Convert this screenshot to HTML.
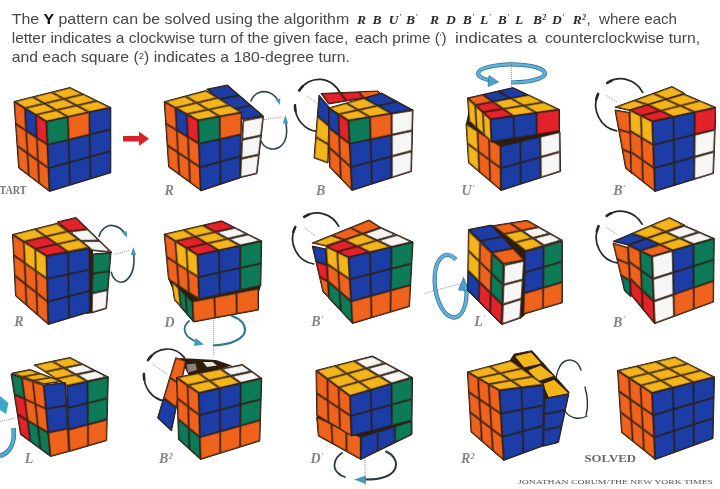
<!DOCTYPE html>
<html><head><meta charset="utf-8"><title>Y pattern</title>
<style>
html,body{margin:0;padding:0;background:#fff;}
body{width:720px;height:489px;overflow:hidden;}
svg{display:block;}
</style></head><body>
<svg width="720" height="489" viewBox="0 0 720 489">
<defs><filter id="soft" x="0" y="0" width="100%" height="100%"><feGaussianBlur stdDeviation="0.7"/></filter></defs>
<rect width="720" height="489" fill="#ffffff"/>
<g filter="url(#soft)">
<g fill="#474747">
<text x="11.7" y="23.8" style="font-family:'Liberation Sans', sans-serif;font-size:15px;" textLength="337.5" lengthAdjust="spacingAndGlyphs">The <tspan style="font-weight:bold" fill="#111">Y</tspan> pattern can be solved using the algorithm</text>
<text x="357" y="23.8" fill="#2a2a2a" style="font-family:'Liberation Serif', serif;font-style:italic;font-weight:bold;font-size:13.5px;">R</text>
<text x="372.5" y="23.8" fill="#2a2a2a" style="font-family:'Liberation Serif', serif;font-style:italic;font-weight:bold;font-size:13.5px;">B</text>
<text x="388.7" y="23.8" fill="#2a2a2a" style="font-family:'Liberation Serif', serif;font-style:italic;font-weight:bold;font-size:13.5px;">U<tspan dy="-4" dx="0.5" style="font-size:7.5px">'</tspan></text>
<text x="406" y="23.8" fill="#2a2a2a" style="font-family:'Liberation Serif', serif;font-style:italic;font-weight:bold;font-size:13.5px;">B<tspan dy="-4" dx="0.5" style="font-size:7.5px">'</tspan></text>
<text x="430" y="23.8" fill="#2a2a2a" style="font-family:'Liberation Serif', serif;font-style:italic;font-weight:bold;font-size:13.5px;">R</text>
<text x="446" y="23.8" fill="#2a2a2a" style="font-family:'Liberation Serif', serif;font-style:italic;font-weight:bold;font-size:13.5px;">D</text>
<text x="462.7" y="23.8" fill="#2a2a2a" style="font-family:'Liberation Serif', serif;font-style:italic;font-weight:bold;font-size:13.5px;">B<tspan dy="-4" dx="0.5" style="font-size:7.5px">'</tspan></text>
<text x="480" y="23.8" fill="#2a2a2a" style="font-family:'Liberation Serif', serif;font-style:italic;font-weight:bold;font-size:13.5px;">L<tspan dy="-4" dx="0.5" style="font-size:7.5px">'</tspan></text>
<text x="497.7" y="23.8" fill="#2a2a2a" style="font-family:'Liberation Serif', serif;font-style:italic;font-weight:bold;font-size:13.5px;">B<tspan dy="-4" dx="0.5" style="font-size:7.5px">'</tspan></text>
<text x="515" y="23.8" fill="#2a2a2a" style="font-family:'Liberation Serif', serif;font-style:italic;font-weight:bold;font-size:13.5px;">L</text>
<text x="533" y="23.8" fill="#2a2a2a" style="font-family:'Liberation Serif', serif;font-style:italic;font-weight:bold;font-size:13.5px;">B<tspan dy="-4" dx="0.5" style="font-size:7.5px">2</tspan></text>
<text x="552" y="23.8" fill="#2a2a2a" style="font-family:'Liberation Serif', serif;font-style:italic;font-weight:bold;font-size:13.5px;">D<tspan dy="-4" dx="0.5" style="font-size:7.5px">'</tspan></text>
<text x="572.7" y="23.8" fill="#2a2a2a" style="font-family:'Liberation Serif', serif;font-style:italic;font-weight:bold;font-size:13.5px;">R<tspan dy="-4" dx="0.5" style="font-size:7.5px">2</tspan></text>
<text x="586.5" y="23.8" style="font-family:'Liberation Sans', sans-serif;font-size:15px;">,</text><text x="599" y="23.8" style="font-family:'Liberation Sans', sans-serif;font-size:15px;" textLength="78" lengthAdjust="spacingAndGlyphs">where each</text>
<text x="11.7" y="43" style="font-family:'Liberation Sans', sans-serif;font-size:15px;" textLength="336.6" lengthAdjust="spacingAndGlyphs">letter indicates a clockwise turn of the given face,</text>
<text x="355" y="43" style="font-family:'Liberation Sans', sans-serif;font-size:15px;" textLength="91.7" lengthAdjust="spacingAndGlyphs">each prime (<tspan dy="-3" style="font-size:9px">'</tspan><tspan dy="3">)</tspan></text>
<text x="455" y="43" style="font-family:'Liberation Sans', sans-serif;font-size:15px;" textLength="81.7" lengthAdjust="spacingAndGlyphs">indicates a</text>
<text x="545" y="43" style="font-family:'Liberation Sans', sans-serif;font-size:15px;" textLength="155" lengthAdjust="spacingAndGlyphs">counterclockwise turn,</text>
<text x="11.7" y="62" style="font-family:'Liberation Sans', sans-serif;font-size:15px;" textLength="338.3" lengthAdjust="spacingAndGlyphs">and each square (<tspan dy="-3" style="font-size:9px">2</tspan><tspan dy="3">)</tspan> indicates a 180-degree turn.</text>
</g>
<polygon points="123.0,136.0 139.0,136.0 139.0,131.5 149.0,138.7 139.0,146.0 139.0,141.5 123.0,141.5" fill="#d8232a"/>
<polygon points="14.0,101.5 70.0,87.5 110.8,107.5 46.5,121.5" fill="#2e1c10" stroke="#2e1c10" stroke-width="1.0" stroke-linejoin="round"/>
<polygon points="14.9,101.6 32.6,97.2 43.5,103.4 24.9,107.8" fill="#916815"/>
<polygon points="18.5,102.2 32.4,98.7 39.7,102.8 25.1,106.3" fill="#f4b41a" stroke="#f4b41a" stroke-width="1" stroke-linejoin="round"/>
<polygon points="33.6,97.0 51.3,92.5 63.0,98.7 44.5,103.1" fill="#916815"/>
<polygon points="37.3,97.5 51.1,94.0 59.1,98.2 44.7,101.6" fill="#f4b41a" stroke="#f4b41a" stroke-width="1" stroke-linejoin="round"/>
<polygon points="52.3,92.3 70.0,87.9 82.6,94.1 64.1,98.5" fill="#916815"/>
<polygon points="56.2,92.8 69.8,89.4 78.5,93.6 64.2,97.0" fill="#f4b41a" stroke="#f4b41a" stroke-width="1" stroke-linejoin="round"/>
<polygon points="25.7,108.3 44.4,103.9 55.2,110.0 35.7,114.5" fill="#916815"/>
<polygon points="29.3,108.9 44.2,105.4 51.4,109.5 36.0,113.0" fill="#f4b41a" stroke="#f4b41a" stroke-width="1" stroke-linejoin="round"/>
<polygon points="45.4,103.6 64.0,99.2 75.7,105.4 56.2,109.8" fill="#916815"/>
<polygon points="49.2,104.2 63.8,100.7 71.7,104.8 56.5,108.3" fill="#f4b41a" stroke="#f4b41a" stroke-width="1" stroke-linejoin="round"/>
<polygon points="65.0,99.0 83.6,94.5 96.2,100.7 76.7,105.1" fill="#916815"/>
<polygon points="69.0,99.5 83.4,96.0 92.0,100.2 76.9,103.7" fill="#f4b41a" stroke="#f4b41a" stroke-width="1" stroke-linejoin="round"/>
<polygon points="36.6,115.0 56.1,110.5 67.0,116.7 46.6,121.1" fill="#916815"/>
<polygon points="40.2,115.6 55.9,112.0 63.1,116.1 46.8,119.6" fill="#f4b41a" stroke="#f4b41a" stroke-width="1" stroke-linejoin="round"/>
<polygon points="57.1,110.3 76.6,105.9 88.4,112.0 68.0,116.5" fill="#916815"/>
<polygon points="61.0,110.9 76.4,107.3 84.3,111.5 68.2,115.0" fill="#f4b41a" stroke="#f4b41a" stroke-width="1" stroke-linejoin="round"/>
<polygon points="77.7,105.6 97.2,101.2 109.7,107.4 89.4,111.8" fill="#916815"/>
<polygon points="81.7,106.2 97.0,102.7 105.5,106.9 89.6,110.3" fill="#f4b41a" stroke="#f4b41a" stroke-width="1" stroke-linejoin="round"/>
<polygon points="14.0,101.5 46.5,121.5 49.5,191.5 18.6,168.0" fill="#2e1c10" stroke="#2e1c10" stroke-width="1.0" stroke-linejoin="round"/>
<polygon points="14.4,102.2 24.5,108.4 25.8,130.0 15.9,123.5" fill="#8f4017"/>
<polygon points="16.0,104.8 23.1,109.2 24.2,127.3 17.2,122.7" fill="#f0641e" stroke="#f0641e" stroke-width="1" stroke-linejoin="round"/>
<polygon points="25.2,108.8 35.3,115.0 36.5,137.1 26.5,130.5" fill="#242d5b"/>
<polygon points="26.8,111.4 34.0,115.8 34.9,134.4 27.9,129.7" fill="#1a3ea6" stroke="#1a3ea6" stroke-width="1" stroke-linejoin="round"/>
<polygon points="36.1,115.5 46.2,121.7 47.1,144.2 37.2,137.6" fill="#881f1d"/>
<polygon points="37.6,118.1 44.8,122.5 45.6,141.5 38.5,136.8" fill="#e3222b" stroke="#e3222b" stroke-width="1" stroke-linejoin="round"/>
<polygon points="15.9,124.4 25.8,130.9 27.2,152.6 17.4,145.6" fill="#8f4017"/>
<polygon points="17.5,127.1 24.5,131.7 25.6,149.7 18.8,144.9" fill="#f0641e" stroke="#f0641e" stroke-width="1" stroke-linejoin="round"/>
<polygon points="26.6,131.4 36.5,138.0 37.6,160.0 27.9,153.1" fill="#8f4017"/>
<polygon points="28.1,134.1 35.1,138.7 36.1,157.2 29.2,152.3" fill="#f0641e" stroke="#f0641e" stroke-width="1" stroke-linejoin="round"/>
<polygon points="37.2,138.5 47.2,145.0 48.1,167.5 38.4,160.5" fill="#8f4017"/>
<polygon points="38.8,141.2 45.8,145.8 46.6,164.7 39.7,159.8" fill="#f0641e" stroke="#f0641e" stroke-width="1" stroke-linejoin="round"/>
<polygon points="17.5,146.5 27.2,153.5 28.5,175.1 18.9,167.8" fill="#8f4017"/>
<polygon points="19.1,149.4 25.8,154.2 26.9,172.1 20.3,167.1" fill="#f0641e" stroke="#f0641e" stroke-width="1" stroke-linejoin="round"/>
<polygon points="27.9,154.0 37.7,160.9 38.8,182.9 29.2,175.7" fill="#8f4017"/>
<polygon points="29.5,156.8 36.3,161.7 37.3,180.0 30.6,174.9" fill="#f0641e" stroke="#f0641e" stroke-width="1" stroke-linejoin="round"/>
<polygon points="38.4,161.4 48.2,168.4 49.1,190.8 39.5,183.5" fill="#8f4017"/>
<polygon points="40.0,164.2 46.8,169.1 47.6,187.9 40.9,182.8" fill="#f0641e" stroke="#f0641e" stroke-width="1" stroke-linejoin="round"/>
<polygon points="46.5,121.5 110.8,107.5 110.8,172.8 49.5,191.5" fill="#2e1c10" stroke="#2e1c10" stroke-width="1.0" stroke-linejoin="round"/>
<polygon points="46.9,121.8 67.6,117.3 68.2,139.4 47.8,144.4" fill="#1e4b34"/>
<polygon points="48.3,122.9 66.2,119.0 66.8,138.3 49.2,142.6" fill="#0e7a58" stroke="#0e7a58" stroke-width="1" stroke-linejoin="round"/>
<polygon points="68.3,117.1 89.0,112.6 89.3,134.2 68.9,139.2" fill="#8f4017"/>
<polygon points="69.7,118.2 87.6,114.3 87.9,133.1 70.3,137.4" fill="#f0641e" stroke="#f0641e" stroke-width="1" stroke-linejoin="round"/>
<polygon points="89.7,112.4 110.5,107.9 110.5,129.0 90.0,134.0" fill="#242d5b"/>
<polygon points="91.1,113.6 109.0,109.7 109.0,127.9 91.4,132.2" fill="#1a3ea6" stroke="#1a3ea6" stroke-width="1" stroke-linejoin="round"/>
<polygon points="47.9,145.1 68.3,140.1 68.9,162.2 48.8,167.7" fill="#242d5b"/>
<polygon points="49.3,146.2 66.9,141.9 67.5,161.1 50.2,165.9" fill="#1a3ea6" stroke="#1a3ea6" stroke-width="1" stroke-linejoin="round"/>
<polygon points="69.0,139.9 89.4,134.9 89.7,156.5 69.6,162.0" fill="#242d5b"/>
<polygon points="70.4,141.0 88.0,136.7 88.3,155.4 71.0,160.2" fill="#1a3ea6" stroke="#1a3ea6" stroke-width="1" stroke-linejoin="round"/>
<polygon points="90.1,134.7 110.5,129.7 110.5,150.8 90.4,156.3" fill="#242d5b"/>
<polygon points="91.5,135.8 109.0,131.5 109.0,149.7 91.7,154.5" fill="#1a3ea6" stroke="#1a3ea6" stroke-width="1" stroke-linejoin="round"/>
<polygon points="48.9,168.4 68.9,162.9 69.6,185.0 49.8,191.0" fill="#242d5b"/>
<polygon points="50.3,169.5 67.6,164.7 68.1,184.0 51.2,189.2" fill="#1a3ea6" stroke="#1a3ea6" stroke-width="1" stroke-linejoin="round"/>
<polygon points="69.6,162.7 89.7,157.2 90.0,178.8 70.3,184.8" fill="#242d5b"/>
<polygon points="71.1,163.8 88.3,159.0 88.6,177.7 71.6,182.9" fill="#1a3ea6" stroke="#1a3ea6" stroke-width="1" stroke-linejoin="round"/>
<polygon points="90.4,157.0 110.5,151.5 110.5,172.5 90.7,178.6" fill="#242d5b"/>
<polygon points="91.8,158.1 109.0,153.3 109.0,171.5 92.1,176.7" fill="#1a3ea6" stroke="#1a3ea6" stroke-width="1" stroke-linejoin="round"/>
<text x="-0.5" y="194" fill="#777" text-anchor="start" style="font-family:'Liberation Serif', serif;font-size:12.5px;font-weight:bold;" textLength="27" lengthAdjust="spacingAndGlyphs">TART</text>
<path d="M251,101 C254,93 262,90 269,92.5 C274,94.5 277,98 278.5,102" fill="none" stroke="#2c4a52" stroke-width="1.6" stroke-linecap="round"/>
<path d="M285.5,121 C288,133 286,143 279,147.5 C272,151 264,148 261,141" fill="none" stroke="#2c4a52" stroke-width="1.6" stroke-linecap="round"/>
<polygon points="275.5,99.5 280.3,98.5 280.0,105.0" fill="#3f9bb8"/>
<polygon points="282.8,123.5 285.3,115.0 288.2,123.5" fill="#3f9bb8"/>
<line x1="264" y1="119.6" x2="282.4" y2="116.8" stroke="#777" stroke-width="0.8" stroke-dasharray="1,1"/>
<polygon points="206.7,89.2 227.5,85.0 263.5,116.0 243.0,119.5" fill="#2e1c10" stroke="#2e1c10" stroke-width="1.0" stroke-linejoin="round"/>
<polygon points="207.5,89.4 227.4,85.4 238.7,95.1 218.9,98.9" fill="#242d5b"/>
<polygon points="210.6,90.2 227.0,86.9 235.6,94.3 219.3,97.4" fill="#1a3ea6" stroke="#1a3ea6" stroke-width="1" stroke-linejoin="round"/>
<polygon points="219.6,99.5 239.4,95.7 250.7,105.5 231.0,109.0" fill="#242d5b"/>
<polygon points="222.8,100.3 239.0,97.2 247.6,104.6 231.4,107.5" fill="#1a3ea6" stroke="#1a3ea6" stroke-width="1" stroke-linejoin="round"/>
<polygon points="231.7,109.6 251.4,106.0 262.7,115.8 243.1,119.1" fill="#242d5b"/>
<polygon points="234.9,110.5 251.0,107.5 259.5,114.9 243.5,117.6" fill="#1a3ea6" stroke="#1a3ea6" stroke-width="1" stroke-linejoin="round"/>
<polygon points="243.0,120.5 263.5,116.5 257.0,173.7 240.0,177.7" fill="#2e1c10" stroke="#2e1c10" stroke-width="1.0" stroke-linejoin="round"/>
<polygon points="243.3,120.8 263.1,116.9 261.0,135.3 242.4,139.1" fill="#6a5d54"/>
<polygon points="244.7,122.0 261.5,118.7 259.7,134.1 243.9,137.4" fill="#f6f6f4" stroke="#f6f6f4" stroke-width="1" stroke-linejoin="round"/>
<polygon points="242.3,139.9 260.9,136.0 258.8,154.3 241.4,158.2" fill="#6a5d54"/>
<polygon points="243.7,141.0 259.3,137.8 257.6,153.2 242.9,156.4" fill="#f6f6f4" stroke="#f6f6f4" stroke-width="1" stroke-linejoin="round"/>
<polygon points="241.3,158.9 258.8,155.1 256.7,173.4 240.4,177.3" fill="#6a5d54"/>
<polygon points="242.7,160.1 257.2,156.9 255.4,172.3 241.9,175.5" fill="#f6f6f4" stroke="#f6f6f4" stroke-width="1" stroke-linejoin="round"/>
<polygon points="164.2,101.7 206.0,90.5 241.7,112.5 198.0,120.3" fill="#2e1c10" stroke="#2e1c10" stroke-width="1.0" stroke-linejoin="round"/>
<polygon points="165.1,101.8 185.0,96.5 195.8,102.7 175.5,107.5" fill="#916815"/>
<polygon points="168.9,102.3 184.8,98.0 192.0,102.2 175.7,106.0" fill="#f4b41a" stroke="#f4b41a" stroke-width="1" stroke-linejoin="round"/>
<polygon points="186.0,96.2 205.9,90.9 217.0,97.7 196.7,102.5" fill="#916815"/>
<polygon points="189.6,96.7 205.7,92.4 213.4,97.1 197.0,101.0" fill="#f4b41a" stroke="#f4b41a" stroke-width="1" stroke-linejoin="round"/>
<polygon points="176.4,108.0 196.6,103.2 207.3,109.5 186.8,113.7" fill="#916815"/>
<polygon points="180.3,108.6 196.4,104.7 203.4,108.8 187.0,112.3" fill="#f4b41a" stroke="#f4b41a" stroke-width="1" stroke-linejoin="round"/>
<polygon points="197.6,103.0 217.8,98.2 228.9,105.0 208.3,109.3" fill="#916815"/>
<polygon points="201.3,103.6 217.6,99.7 225.1,104.3 208.6,107.8" fill="#f4b41a" stroke="#f4b41a" stroke-width="1" stroke-linejoin="round"/>
<polygon points="187.7,114.3 208.2,110.0 218.9,116.2 198.1,119.9" fill="#916815"/>
<polygon points="191.7,114.9 208.0,111.5 214.9,115.5 198.3,118.5" fill="#f4b41a" stroke="#f4b41a" stroke-width="1" stroke-linejoin="round"/>
<polygon points="209.2,109.8 229.7,105.5 240.7,112.3 219.9,116.0" fill="#916815"/>
<polygon points="213.1,110.4 229.5,107.0 236.9,111.6 220.2,114.6" fill="#f4b41a" stroke="#f4b41a" stroke-width="1" stroke-linejoin="round"/>
<polygon points="164.2,101.7 198.0,120.3 200.8,190.5 168.6,167.0" fill="#2e1c10" stroke="#2e1c10" stroke-width="1.0" stroke-linejoin="round"/>
<polygon points="164.6,102.3 175.1,108.1 176.4,129.6 166.0,123.3" fill="#8f4017"/>
<polygon points="166.2,104.8 173.8,109.0 174.8,127.0 167.4,122.4" fill="#f0641e" stroke="#f0641e" stroke-width="1" stroke-linejoin="round"/>
<polygon points="175.9,108.5 186.4,114.3 187.5,136.3 177.1,130.0" fill="#242d5b"/>
<polygon points="177.4,111.0 185.0,115.2 185.9,133.7 178.4,129.2" fill="#1a3ea6" stroke="#1a3ea6" stroke-width="1" stroke-linejoin="round"/>
<polygon points="187.1,114.7 197.7,120.5 198.6,143.1 188.2,136.8" fill="#881f1d"/>
<polygon points="188.6,117.1 196.3,121.4 197.1,140.5 189.5,135.9" fill="#e3222b" stroke="#e3222b" stroke-width="1" stroke-linejoin="round"/>
<polygon points="166.1,124.1 176.4,130.4 177.7,151.8 167.5,145.0" fill="#8f4017"/>
<polygon points="167.6,126.7 175.1,131.2 176.1,149.1 168.8,144.3" fill="#f0641e" stroke="#f0641e" stroke-width="1" stroke-linejoin="round"/>
<polygon points="177.1,130.9 187.5,137.2 188.6,159.1 178.4,152.3" fill="#8f4017"/>
<polygon points="178.7,133.4 186.1,138.0 187.0,156.4 179.7,151.6" fill="#f0641e" stroke="#f0641e" stroke-width="1" stroke-linejoin="round"/>
<polygon points="188.2,137.6 198.6,143.9 199.5,166.4 189.3,159.6" fill="#8f4017"/>
<polygon points="189.8,140.2 197.2,144.7 198.0,163.7 190.7,158.8" fill="#f0641e" stroke="#f0641e" stroke-width="1" stroke-linejoin="round"/>
<polygon points="167.5,145.9 177.7,152.7 178.9,174.1 168.9,166.8" fill="#8f4017"/>
<polygon points="169.1,148.7 176.3,153.5 177.4,171.2 170.3,166.1" fill="#f0641e" stroke="#f0641e" stroke-width="1" stroke-linejoin="round"/>
<polygon points="178.4,153.2 188.6,160.0 189.7,182.0 179.7,174.6" fill="#8f4017"/>
<polygon points="180.0,155.9 187.3,160.8 188.1,179.1 181.0,173.9" fill="#f0641e" stroke="#f0641e" stroke-width="1" stroke-linejoin="round"/>
<polygon points="189.3,160.5 199.5,167.3 200.4,189.8 190.4,182.5" fill="#8f4017"/>
<polygon points="190.9,163.2 198.2,168.1 198.9,187.0 191.8,181.7" fill="#f0641e" stroke="#f0641e" stroke-width="1" stroke-linejoin="round"/>
<polygon points="198.0,120.3 241.7,112.5 240.0,178.0 200.5,191.0" fill="#2e1c10" stroke="#2e1c10" stroke-width="1.0" stroke-linejoin="round"/>
<polygon points="198.4,120.6 219.5,116.8 219.6,138.8 199.2,143.4" fill="#1e4b34"/>
<polygon points="199.8,121.8 218.1,118.5 218.2,137.7 200.5,141.7" fill="#0e7a58" stroke="#0e7a58" stroke-width="1" stroke-linejoin="round"/>
<polygon points="220.2,116.7 241.3,112.9 240.8,134.1 220.3,138.7" fill="#8f4017"/>
<polygon points="221.6,117.9 239.9,114.6 239.4,132.9 221.7,136.9" fill="#f0641e" stroke="#f0641e" stroke-width="1" stroke-linejoin="round"/>
<polygon points="199.2,144.1 219.6,139.5 219.8,161.5 200.0,167.0" fill="#242d5b"/>
<polygon points="200.6,145.3 218.2,141.3 218.4,160.5 201.3,165.2" fill="#1a3ea6" stroke="#1a3ea6" stroke-width="1" stroke-linejoin="round"/>
<polygon points="220.3,139.4 240.8,134.8 240.2,155.9 220.5,161.3" fill="#242d5b"/>
<polygon points="221.7,140.5 239.3,136.5 238.9,154.8 221.9,159.5" fill="#1a3ea6" stroke="#1a3ea6" stroke-width="1" stroke-linejoin="round"/>
<polygon points="200.0,167.7 219.8,162.3 219.9,184.2 200.8,190.5" fill="#242d5b"/>
<polygon points="201.5,168.8 218.4,164.1 218.5,183.2 202.2,188.6" fill="#1a3ea6" stroke="#1a3ea6" stroke-width="1" stroke-linejoin="round"/>
<polygon points="220.5,162.1 240.2,156.6 239.7,177.7 220.6,184.0" fill="#242d5b"/>
<polygon points="221.9,163.1 238.8,158.5 238.3,176.7 222.0,182.1" fill="#1a3ea6" stroke="#1a3ea6" stroke-width="1" stroke-linejoin="round"/>
<text x="164.5" y="194.8" fill="#858585" text-anchor="start" style="font-family:'Liberation Serif', serif;font-size:14px;font-style:italic;font-weight:bold;">R</text>
<path d="M299.3,90.5 A24,26 0 0 1 340.8,94.4" fill="none" stroke="#262626" stroke-width="1.7" stroke-linecap="round"/>
<path d="M295.0,105.4 A24,26 0 0 0 316.9,131.3" fill="none" stroke="#262626" stroke-width="1.7" stroke-linecap="round"/>
<path d="M299.3,90.5 A24,26 0 0 1 302.6,86.4" fill="none" stroke="#262626" stroke-width="2.6" stroke-linecap="round"/>
<path d="M295.0,105.4 A24,26 0 0 0 295.5,110.8" fill="none" stroke="#262626" stroke-width="2.6" stroke-linecap="round"/>
<line x1="306.5" y1="95.8" x2="317.2" y2="103.6" stroke="#777" stroke-width="0.8" stroke-dasharray="1,1"/>
<polygon points="321.0,93.5 378.0,91.0 382.0,95.0 328.5,104.0" fill="#2e1c10" stroke="#2e1c10" stroke-width="1.0" stroke-linejoin="round"/>
<polygon points="321.7,93.8 339.8,93.0 345.7,100.8 328.7,103.6" fill="#881f1d"/>
<polygon points="324.3,95.1 339.2,94.5 343.2,99.8 329.3,102.1" fill="#e3222b" stroke="#e3222b" stroke-width="1" stroke-linejoin="round"/>
<polygon points="340.7,93.0 358.8,92.2 363.5,97.8 346.5,100.6" fill="#881f1d"/>
<polygon points="343.4,94.3 358.2,93.6 360.9,96.8 347.1,99.1" fill="#e3222b" stroke="#e3222b" stroke-width="1" stroke-linejoin="round"/>
<polygon points="359.7,92.2 377.9,91.4 381.3,94.8 364.3,97.6" fill="#8f4017"/>
<polygon points="361.6,93.0 377.5,92.3 379.4,94.2 364.7,96.6" fill="#f0641e" stroke="#f0641e" stroke-width="1" stroke-linejoin="round"/>
<polygon points="319.0,95.0 330.0,108.0 328.0,163.0 314.0,158.0" fill="#2e1c10" stroke="#2e1c10" stroke-width="1.0" stroke-linejoin="round"/>
<polygon points="319.3,95.9 329.6,108.1 329.0,125.6 317.7,115.9" fill="#242d5b"/>
<polygon points="320.4,99.4 328.2,108.6 327.7,122.6 319.1,115.3" fill="#1a3ea6" stroke="#1a3ea6" stroke-width="1" stroke-linejoin="round"/>
<polygon points="317.6,116.7 329.0,126.5 328.3,144.1 316.0,136.8" fill="#916815"/>
<polygon points="318.8,119.6 327.6,127.1 327.0,141.7 317.5,136.0" fill="#f4b41a" stroke="#f4b41a" stroke-width="1" stroke-linejoin="round"/>
<polygon points="316.0,137.6 328.3,144.9 327.7,162.5 314.4,157.8" fill="#916815"/>
<polygon points="317.2,139.9 326.9,145.6 326.3,160.5 315.9,156.8" fill="#f4b41a" stroke="#f4b41a" stroke-width="1" stroke-linejoin="round"/>
<polygon points="328.5,108.0 381.6,93.0 413.0,110.0 348.5,120.5" fill="#2e1c10" stroke="#2e1c10" stroke-width="1.0" stroke-linejoin="round"/>
<polygon points="329.4,108.1 346.2,103.4 357.2,109.8 338.6,113.9" fill="#916815"/>
<polygon points="332.8,108.6 346.0,104.9 353.4,109.2 338.8,112.4" fill="#f4b41a" stroke="#f4b41a" stroke-width="1" stroke-linejoin="round"/>
<polygon points="347.1,103.1 363.9,98.4 376.7,105.6 358.2,109.6" fill="#916815"/>
<polygon points="350.6,103.6 363.7,99.9 372.8,105.0 358.4,108.1" fill="#f4b41a" stroke="#f4b41a" stroke-width="1" stroke-linejoin="round"/>
<polygon points="364.8,98.1 381.6,93.4 396.3,101.4 377.8,105.4" fill="#242d5b"/>
<polygon points="368.4,98.5 381.4,94.9 392.3,100.8 378.0,103.9" fill="#1a3ea6" stroke="#1a3ea6" stroke-width="1" stroke-linejoin="round"/>
<polygon points="339.4,114.4 358.0,110.4 369.0,116.8 348.6,120.1" fill="#916815"/>
<polygon points="343.1,115.0 357.8,111.9 364.9,116.1 348.9,118.7" fill="#f4b41a" stroke="#f4b41a" stroke-width="1" stroke-linejoin="round"/>
<polygon points="359.0,110.2 377.6,106.1 390.5,113.3 370.1,116.6" fill="#916815"/>
<polygon points="362.8,110.8 377.4,107.6 386.3,112.6 370.3,115.2" fill="#f4b41a" stroke="#f4b41a" stroke-width="1" stroke-linejoin="round"/>
<polygon points="378.7,105.9 397.2,101.9 411.9,109.8 391.6,113.1" fill="#242d5b"/>
<polygon points="382.6,106.5 397.0,103.3 407.7,109.1 391.8,111.7" fill="#1a3ea6" stroke="#1a3ea6" stroke-width="1" stroke-linejoin="round"/>
<polygon points="328.5,108.0 348.5,120.5 352.0,190.5 329.5,167.0" fill="#2e1c10" stroke="#2e1c10" stroke-width="1.0" stroke-linejoin="round"/>
<polygon points="328.9,108.6 338.2,114.4 338.9,135.0 329.2,127.5" fill="#242d5b"/>
<polygon points="330.3,111.2 336.8,115.2 337.4,132.1 330.6,126.8" fill="#1a3ea6" stroke="#1a3ea6" stroke-width="1" stroke-linejoin="round"/>
<polygon points="338.9,114.9 348.2,120.7 349.3,143.1 339.6,135.6" fill="#881f1d"/>
<polygon points="340.4,117.5 346.8,121.5 347.7,140.1 341.0,134.9" fill="#e3222b" stroke="#e3222b" stroke-width="1" stroke-linejoin="round"/>
<polygon points="329.2,128.4 338.9,135.9 339.6,156.4 329.5,147.2" fill="#8f4017"/>
<polygon points="330.6,131.3 337.5,136.6 338.1,153.1 330.9,146.6" fill="#f0641e" stroke="#f0641e" stroke-width="1" stroke-linejoin="round"/>
<polygon points="339.6,136.5 349.3,144.0 350.4,166.3 340.3,157.1" fill="#8f4017"/>
<polygon points="341.1,139.4 348.0,144.7 348.9,163.0 341.7,156.5" fill="#f0641e" stroke="#f0641e" stroke-width="1" stroke-linejoin="round"/>
<polygon points="329.5,148.1 339.7,157.4 340.4,177.8 329.8,166.9" fill="#8f4017"/>
<polygon points="331.0,151.4 338.3,158.0 338.8,174.2 331.2,166.3" fill="#f0641e" stroke="#f0641e" stroke-width="1" stroke-linejoin="round"/>
<polygon points="340.4,158.1 350.5,167.3 351.6,189.6 341.1,178.6" fill="#8f4017"/>
<polygon points="341.9,161.4 349.1,168.0 350.0,185.9 342.5,178.0" fill="#f0641e" stroke="#f0641e" stroke-width="1" stroke-linejoin="round"/>
<polygon points="348.5,120.5 413.0,110.0 411.5,171.5 352.0,190.5" fill="#2e1c10" stroke="#2e1c10" stroke-width="1.0" stroke-linejoin="round"/>
<polygon points="348.9,120.8 369.7,117.4 370.3,139.1 350.0,143.4" fill="#1e4b34"/>
<polygon points="350.3,122.0 368.3,119.0 368.8,138.0 351.3,141.7" fill="#0e7a58" stroke="#0e7a58" stroke-width="1" stroke-linejoin="round"/>
<polygon points="370.4,117.3 391.2,113.9 391.2,134.7 370.9,139.0" fill="#8f4017"/>
<polygon points="371.8,118.5 389.8,115.6 389.8,133.5 372.3,137.2" fill="#f0641e" stroke="#f0641e" stroke-width="1" stroke-linejoin="round"/>
<polygon points="391.9,113.8 412.6,110.4 412.2,130.2 391.9,134.5" fill="#6a5d54"/>
<polygon points="393.3,115.0 411.2,112.1 410.8,129.1 393.3,132.8" fill="#f6f6f4" stroke="#f6f6f4" stroke-width="1" stroke-linejoin="round"/>
<polygon points="350.0,144.1 370.3,139.8 370.9,161.5 351.2,166.7" fill="#242d5b"/>
<polygon points="351.5,145.2 368.9,141.5 369.4,160.4 352.5,164.9" fill="#1a3ea6" stroke="#1a3ea6" stroke-width="1" stroke-linejoin="round"/>
<polygon points="371.0,139.7 391.2,135.4 391.3,156.1 371.6,161.3" fill="#242d5b"/>
<polygon points="372.4,140.8 389.8,137.1 389.9,155.0 372.9,159.5" fill="#1a3ea6" stroke="#1a3ea6" stroke-width="1" stroke-linejoin="round"/>
<polygon points="391.9,135.2 412.1,130.9 411.7,150.7 392.0,155.9" fill="#6a5d54"/>
<polygon points="393.3,136.4 410.7,132.7 410.3,149.6 393.4,154.1" fill="#f6f6f4" stroke="#f6f6f4" stroke-width="1" stroke-linejoin="round"/>
<polygon points="351.2,167.4 370.9,162.2 371.5,183.9 352.3,190.0" fill="#242d5b"/>
<polygon points="352.7,168.5 369.5,164.0 370.0,182.9 353.6,188.1" fill="#1a3ea6" stroke="#1a3ea6" stroke-width="1" stroke-linejoin="round"/>
<polygon points="371.6,162.0 391.3,156.8 391.3,177.6 372.2,183.7" fill="#242d5b"/>
<polygon points="373.0,163.1 389.9,158.7 389.9,176.6 373.5,181.8" fill="#1a3ea6" stroke="#1a3ea6" stroke-width="1" stroke-linejoin="round"/>
<polygon points="392.0,156.7 411.6,151.5 411.2,171.2 392.0,177.4" fill="#6a5d54"/>
<polygon points="393.4,157.7 410.2,153.3 409.8,170.2 393.4,175.4" fill="#f6f6f4" stroke="#f6f6f4" stroke-width="1" stroke-linejoin="round"/>
<text x="316" y="195" fill="#858585" text-anchor="start" style="font-family:'Liberation Serif', serif;font-size:14px;font-style:italic;font-weight:bold;">B</text>
<path d="M511.4,82.5 A33.4,9 0 1 0 492,80.8" fill="none" stroke="#2a6f92" stroke-width="4.2"/>
<path d="M511.4,82.5 A33.4,9 0 1 0 492,80.8" fill="none" stroke="#62b0d8" stroke-width="2.8"/>
<polygon points="489.0,75.5 498.5,82.0 488.0,86.5" fill="#4aa3d0" stroke="#2a6f92" stroke-width="0.7"/>
<line x1="511.4" y1="62" x2="511.4" y2="98" stroke="#777" stroke-width="0.8" stroke-dasharray="1,1"/>
<polygon points="466.0,123.6 500.5,146.0 501.0,190.5 468.5,163.0" fill="#2e1c10" stroke="#2e1c10" stroke-width="1.0" stroke-linejoin="round"/>
<polygon points="466.4,124.3 477.2,131.3 478.0,150.9 467.6,143.1" fill="#916815"/>
<polygon points="468.0,127.0 475.8,132.0 476.5,148.0 468.9,142.4" fill="#f4b41a" stroke="#f4b41a" stroke-width="1" stroke-linejoin="round"/>
<polygon points="477.9,131.7 488.7,138.7 489.2,159.2 478.8,151.4" fill="#8f4017"/>
<polygon points="479.4,134.4 487.3,139.5 487.7,156.4 480.1,150.7" fill="#f0641e" stroke="#f0641e" stroke-width="1" stroke-linejoin="round"/>
<polygon points="489.4,139.2 500.2,146.2 500.4,167.5 489.9,159.8" fill="#8f4017"/>
<polygon points="490.8,141.8 498.8,147.0 499.0,164.7 491.3,159.0" fill="#f0641e" stroke="#f0641e" stroke-width="1" stroke-linejoin="round"/>
<polygon points="467.6,144.0 478.1,151.8 478.9,171.4 468.8,162.8" fill="#916815"/>
<polygon points="469.2,147.0 476.7,152.5 477.4,168.2 470.2,162.1" fill="#f4b41a" stroke="#f4b41a" stroke-width="1" stroke-linejoin="round"/>
<polygon points="478.8,152.3 489.2,160.1 489.8,180.6 479.7,172.0" fill="#8f4017"/>
<polygon points="480.3,155.2 487.9,160.8 488.3,177.5 481.0,171.3" fill="#f0641e" stroke="#f0641e" stroke-width="1" stroke-linejoin="round"/>
<polygon points="490.0,160.6 500.4,168.4 500.6,189.7 490.5,181.2" fill="#8f4017"/>
<polygon points="491.4,163.5 499.0,169.1 499.2,186.7 491.9,180.5" fill="#f0641e" stroke="#f0641e" stroke-width="1" stroke-linejoin="round"/>
<polygon points="500.5,146.0 560.0,131.8 560.5,171.5 501.0,190.5" fill="#2e1c10" stroke="#2e1c10" stroke-width="1.0" stroke-linejoin="round"/>
<polygon points="500.9,146.3 520.0,141.7 520.2,162.5 501.1,167.8" fill="#242d5b"/>
<polygon points="502.3,147.4 518.6,143.5 518.8,161.4 502.5,166.0" fill="#1a3ea6" stroke="#1a3ea6" stroke-width="1" stroke-linejoin="round"/>
<polygon points="520.7,141.5 539.8,137.0 540.1,156.9 520.9,162.3" fill="#242d5b"/>
<polygon points="522.1,142.6 538.4,138.7 538.7,155.9 522.3,160.4" fill="#1a3ea6" stroke="#1a3ea6" stroke-width="1" stroke-linejoin="round"/>
<polygon points="540.5,136.8 559.7,132.2 559.9,151.4 540.8,156.7" fill="#6a5d54"/>
<polygon points="541.9,137.9 558.3,134.0 558.5,150.3 542.1,154.9" fill="#f6f6f4" stroke="#f6f6f4" stroke-width="1" stroke-linejoin="round"/>
<polygon points="501.1,168.5 520.2,163.2 520.5,183.9 501.3,190.0" fill="#242d5b"/>
<polygon points="502.5,169.6 518.9,165.0 519.1,182.9 502.7,188.1" fill="#1a3ea6" stroke="#1a3ea6" stroke-width="1" stroke-linejoin="round"/>
<polygon points="520.9,163.0 540.1,157.6 540.3,177.6 521.2,183.7" fill="#242d5b"/>
<polygon points="522.3,164.0 538.7,159.5 538.9,176.6 522.6,181.8" fill="#1a3ea6" stroke="#1a3ea6" stroke-width="1" stroke-linejoin="round"/>
<polygon points="540.8,157.4 559.9,152.1 560.1,171.2 541.0,177.4" fill="#6a5d54"/>
<polygon points="542.2,158.5 558.5,153.9 558.7,170.2 542.4,175.4" fill="#f6f6f4" stroke="#f6f6f4" stroke-width="1" stroke-linejoin="round"/>
<polygon points="466.0,123.6 500.5,146.5 560.0,132.0 558.0,115.0 470.0,105.0" fill="#2e1c10"/>
<polygon points="467.5,98.0 513.0,87.6 559.5,109.5 490.5,119.3" fill="#2e1c10" stroke="#2e1c10" stroke-width="1.0" stroke-linejoin="round"/>
<polygon points="468.2,98.2 482.6,94.9 492.1,101.5 475.3,104.7" fill="#8f4017"/>
<polygon points="471.1,99.0 482.3,96.4 488.5,100.8 475.7,103.2" fill="#f0641e" stroke="#f0641e" stroke-width="1" stroke-linejoin="round"/>
<polygon points="483.5,94.7 497.8,91.4 509.7,98.1 493.0,101.3" fill="#242d5b"/>
<polygon points="486.9,95.4 497.6,92.9 505.7,97.5 493.3,99.8" fill="#1a3ea6" stroke="#1a3ea6" stroke-width="1" stroke-linejoin="round"/>
<polygon points="498.8,91.2 513.0,88.0 527.4,94.8 510.8,97.9" fill="#242d5b"/>
<polygon points="502.6,91.8 512.8,89.4 522.9,94.2 511.0,96.5" fill="#1a3ea6" stroke="#1a3ea6" stroke-width="1" stroke-linejoin="round"/>
<polygon points="475.9,105.3 492.9,102.1 502.3,108.7 482.9,111.8" fill="#881f1d"/>
<polygon points="478.9,106.2 492.5,103.6 498.7,107.8 483.4,110.3" fill="#e3222b" stroke="#e3222b" stroke-width="1" stroke-linejoin="round"/>
<polygon points="493.8,101.9 510.7,98.7 522.6,105.3 503.3,108.5" fill="#916815"/>
<polygon points="497.4,102.6 510.4,100.1 518.4,104.6 503.6,107.0" fill="#f4b41a" stroke="#f4b41a" stroke-width="1" stroke-linejoin="round"/>
<polygon points="511.7,98.5 528.5,95.3 542.8,102.0 523.7,105.2" fill="#916815"/>
<polygon points="515.8,99.1 528.3,96.7 538.2,101.4 523.9,103.7" fill="#f4b41a" stroke="#f4b41a" stroke-width="1" stroke-linejoin="round"/>
<polygon points="483.6,112.4 503.1,109.2 512.6,115.8 490.6,118.9" fill="#881f1d"/>
<polygon points="486.6,113.3 502.8,110.7 508.9,114.9 491.1,117.5" fill="#e3222b" stroke="#e3222b" stroke-width="1" stroke-linejoin="round"/>
<polygon points="504.1,109.1 523.5,105.9 535.4,112.6 513.6,115.7" fill="#916815"/>
<polygon points="507.8,109.9 523.3,107.4 531.1,111.8 513.9,114.2" fill="#f4b41a" stroke="#f4b41a" stroke-width="1" stroke-linejoin="round"/>
<polygon points="524.7,105.7 543.9,102.6 558.3,109.3 536.6,112.4" fill="#916815"/>
<polygon points="528.8,106.5 543.7,104.0 553.5,108.6 536.8,111.0" fill="#f4b41a" stroke="#f4b41a" stroke-width="1" stroke-linejoin="round"/>
<polygon points="467.5,98.0 490.5,119.3 491.5,142.0 469.2,121.4" fill="#2e1c10" stroke="#2e1c10" stroke-width="1.0" stroke-linejoin="round"/>
<polygon points="467.9,98.9 474.8,105.3 476.2,127.4 469.5,121.2" fill="#916815"/>
<polygon points="469.6,102.3 473.5,105.9 474.6,124.0 470.9,120.6" fill="#f4b41a" stroke="#f4b41a" stroke-width="1" stroke-linejoin="round"/>
<polygon points="475.6,106.0 482.5,112.4 483.7,134.3 477.0,128.1" fill="#916815"/>
<polygon points="477.2,109.4 481.1,113.0 482.1,130.9 478.3,127.5" fill="#f4b41a" stroke="#f4b41a" stroke-width="1" stroke-linejoin="round"/>
<polygon points="483.2,113.0 490.2,119.5 491.1,141.2 484.4,135.0" fill="#916815"/>
<polygon points="484.8,116.4 488.8,120.1 489.6,137.8 485.8,134.3" fill="#f4b41a" stroke="#f4b41a" stroke-width="1" stroke-linejoin="round"/>
<polygon points="490.5,119.3 559.5,109.5 559.5,131.0 491.5,142.0" fill="#2e1c10" stroke="#2e1c10" stroke-width="1.0" stroke-linejoin="round"/>
<polygon points="490.9,119.6 513.2,116.4 513.8,138.0 491.8,141.6" fill="#242d5b"/>
<polygon points="492.3,120.8 511.8,118.0 512.4,136.9 493.2,140.0" fill="#1a3ea6" stroke="#1a3ea6" stroke-width="1" stroke-linejoin="round"/>
<polygon points="513.9,116.3 536.2,113.2 536.5,134.4 514.5,137.9" fill="#242d5b"/>
<polygon points="515.3,117.5 534.8,114.8 535.1,133.2 515.9,136.3" fill="#1a3ea6" stroke="#1a3ea6" stroke-width="1" stroke-linejoin="round"/>
<polygon points="536.9,113.1 559.1,109.9 559.1,130.7 537.2,134.3" fill="#881f1d"/>
<polygon points="538.3,114.3 557.8,111.5 557.8,129.5 538.6,132.6" fill="#e3222b" stroke="#e3222b" stroke-width="1" stroke-linejoin="round"/>
<text x="461.5" y="195" fill="#858585" text-anchor="start" style="font-family:'Liberation Serif', serif;font-size:14px;font-style:italic;font-weight:bold;">U<tspan dy="-4.5" dx="0.5" style="font-size:8px">'</tspan></text>
<path d="M607.2,83.0 A25,26.2 0 0 1 642.7,92.3" fill="none" stroke="#262626" stroke-width="1.7" stroke-linecap="round"/>
<path d="M598.1,93.9 A25,26.2 0 0 0 616.5,130.8" fill="none" stroke="#262626" stroke-width="1.7" stroke-linecap="round"/>
<path d="M607.2,83.0 A25,26.2 0 0 1 611.8,80.5" fill="none" stroke="#262626" stroke-width="2.6" stroke-linecap="round"/>
<path d="M598.1,93.9 A25,26.2 0 0 0 596.4,99.1" fill="none" stroke="#262626" stroke-width="2.6" stroke-linecap="round"/>
<line x1="605.7" y1="95" x2="617.2" y2="102.2" stroke="#777" stroke-width="0.8" stroke-dasharray="1,1"/>
<polygon points="615.0,107.2 672.0,86.5 685.0,93.5 629.6,110.5" fill="#2e1c10" stroke="#2e1c10" stroke-width="1.0" stroke-linejoin="round"/>
<polygon points="616.2,107.1 634.0,100.7 646.9,104.8 629.6,110.1" fill="#916815"/>
<polygon points="621.2,106.8 634.0,102.1 642.2,104.8 629.5,108.7" fill="#f4b41a" stroke="#f4b41a" stroke-width="1" stroke-linejoin="round"/>
<polygon points="635.1,100.3 653.0,93.8 665.5,99.1 648.1,104.5" fill="#916815"/>
<polygon points="639.4,100.2 652.9,95.3 661.4,98.9 648.1,103.0" fill="#f4b41a" stroke="#f4b41a" stroke-width="1" stroke-linejoin="round"/>
<polygon points="654.0,93.4 672.0,86.9 684.1,93.4 666.6,98.8" fill="#916815"/>
<polygon points="657.8,93.5 671.9,88.4 680.5,93.1 666.6,97.3" fill="#f4b41a" stroke="#f4b41a" stroke-width="1" stroke-linejoin="round"/>
<polygon points="615.0,110.0 629.6,112.5 632.2,173.7 625.6,168.4" fill="#2e1c10" stroke="#2e1c10" stroke-width="1.0" stroke-linejoin="round"/>
<polygon points="615.4,110.4 629.3,112.8 630.1,132.4 618.8,129.2" fill="#8f4017"/>
<polygon points="617.2,112.1 627.9,114.0 628.6,130.5 620.1,128.1" fill="#f0641e" stroke="#f0641e" stroke-width="1" stroke-linejoin="round"/>
<polygon points="619.0,130.0 630.1,133.2 631.0,152.7 622.4,148.7" fill="#8f4017"/>
<polygon points="620.8,131.9 628.8,134.2 629.5,150.5 623.6,147.7" fill="#f0641e" stroke="#f0641e" stroke-width="1" stroke-linejoin="round"/>
<polygon points="622.5,149.5 631.0,153.5 631.8,172.9 625.9,168.2" fill="#8f4017"/>
<polygon points="624.4,152.0 629.6,154.4 630.3,169.9 627.2,167.4" fill="#f0641e" stroke="#f0641e" stroke-width="1" stroke-linejoin="round"/>
<polygon points="629.6,110.0 684.0,94.0 716.0,107.5 652.3,121.5" fill="#2e1c10" stroke="#2e1c10" stroke-width="1.0" stroke-linejoin="round"/>
<polygon points="630.5,110.1 647.7,105.0 659.6,110.7 641.0,115.4" fill="#881f1d"/>
<polygon points="634.3,110.4 647.6,106.5 655.5,110.3 641.2,113.9" fill="#e3222b" stroke="#e3222b" stroke-width="1" stroke-linejoin="round"/>
<polygon points="648.7,104.7 665.8,99.7 679.3,105.7 660.7,110.4" fill="#916815"/>
<polygon points="652.6,105.0 665.7,101.2 675.0,105.3 660.8,108.9" fill="#f4b41a" stroke="#f4b41a" stroke-width="1" stroke-linejoin="round"/>
<polygon points="666.9,99.4 684.0,94.4 698.9,100.7 680.3,105.4" fill="#916815"/>
<polygon points="670.9,99.7 683.9,95.9 694.5,100.3 680.5,103.9" fill="#f4b41a" stroke="#f4b41a" stroke-width="1" stroke-linejoin="round"/>
<polygon points="641.9,115.9 660.6,111.1 672.5,116.7 652.3,121.1" fill="#881f1d"/>
<polygon points="645.9,116.3 660.5,112.6 668.1,116.2 652.5,119.7" fill="#e3222b" stroke="#e3222b" stroke-width="1" stroke-linejoin="round"/>
<polygon points="661.7,110.8 680.3,106.1 693.6,112.1 673.6,116.5" fill="#916815"/>
<polygon points="665.8,111.2 680.2,107.6 689.2,111.6 673.7,115.0" fill="#f4b41a" stroke="#f4b41a" stroke-width="1" stroke-linejoin="round"/>
<polygon points="681.4,105.8 700.0,101.1 714.8,107.4 694.8,111.8" fill="#916815"/>
<polygon points="685.6,106.2 699.9,102.6 710.2,107.0 695.0,110.3" fill="#f4b41a" stroke="#f4b41a" stroke-width="1" stroke-linejoin="round"/>
<polygon points="629.6,110.0 652.3,121.5 655.0,191.5 631.0,172.4" fill="#2e1c10" stroke="#2e1c10" stroke-width="1.0" stroke-linejoin="round"/>
<polygon points="630.0,110.6 640.6,116.0 641.3,137.2 630.4,130.6" fill="#916815"/>
<polygon points="631.4,112.9 639.2,116.8 639.8,134.6 631.8,129.8" fill="#f4b41a" stroke="#f4b41a" stroke-width="1" stroke-linejoin="round"/>
<polygon points="641.3,116.3 652.0,121.7 652.8,144.2 642.0,137.6" fill="#916815"/>
<polygon points="642.8,118.6 650.6,122.6 651.3,141.6 643.4,136.8" fill="#f4b41a" stroke="#f4b41a" stroke-width="1" stroke-linejoin="round"/>
<polygon points="630.4,131.4 641.3,138.0 641.9,159.2 630.9,151.4" fill="#8f4017"/>
<polygon points="631.9,134.0 639.9,138.8 640.5,156.4 632.3,150.7" fill="#f0641e" stroke="#f0641e" stroke-width="1" stroke-linejoin="round"/>
<polygon points="642.0,138.5 652.9,145.0 653.7,167.5 642.7,159.7" fill="#8f4017"/>
<polygon points="643.5,141.0 651.5,145.8 652.2,164.7 644.0,159.0" fill="#f0641e" stroke="#f0641e" stroke-width="1" stroke-linejoin="round"/>
<polygon points="630.9,152.3 642.0,160.1 642.6,181.2 631.3,172.2" fill="#8f4017"/>
<polygon points="632.4,155.0 640.6,160.8 641.1,178.2 632.7,171.5" fill="#f0641e" stroke="#f0641e" stroke-width="1" stroke-linejoin="round"/>
<polygon points="642.7,160.6 653.8,168.4 654.6,190.8 643.3,181.8" fill="#8f4017"/>
<polygon points="644.2,163.3 652.4,169.1 653.1,187.8 644.7,181.1" fill="#f0641e" stroke="#f0641e" stroke-width="1" stroke-linejoin="round"/>
<polygon points="652.3,121.5 716.0,107.5 713.5,173.5 655.0,191.5" fill="#2e1c10" stroke="#2e1c10" stroke-width="1.0" stroke-linejoin="round"/>
<polygon points="652.7,121.8 673.2,117.3 673.5,139.4 653.5,144.4" fill="#242d5b"/>
<polygon points="654.1,122.9 671.8,119.0 672.1,138.4 654.9,142.6" fill="#1a3ea6" stroke="#1a3ea6" stroke-width="1" stroke-linejoin="round"/>
<polygon points="673.9,117.1 694.4,112.6 694.2,134.3 674.2,139.3" fill="#242d5b"/>
<polygon points="675.3,118.2 693.0,114.3 692.8,133.2 675.6,137.5" fill="#1a3ea6" stroke="#1a3ea6" stroke-width="1" stroke-linejoin="round"/>
<polygon points="695.1,112.4 715.6,107.9 714.8,129.2 694.9,134.2" fill="#881f1d"/>
<polygon points="696.5,113.6 714.2,109.7 713.5,128.1 696.3,132.4" fill="#e3222b" stroke="#e3222b" stroke-width="1" stroke-linejoin="round"/>
<polygon points="653.6,145.1 673.5,140.2 673.8,162.3 654.4,167.7" fill="#242d5b"/>
<polygon points="655.0,146.2 672.1,142.0 672.4,161.3 655.8,165.9" fill="#1a3ea6" stroke="#1a3ea6" stroke-width="1" stroke-linejoin="round"/>
<polygon points="674.2,140.0 694.2,135.1 693.9,156.8 674.5,162.2" fill="#242d5b"/>
<polygon points="675.6,141.1 692.7,136.9 692.5,155.7 675.9,160.3" fill="#1a3ea6" stroke="#1a3ea6" stroke-width="1" stroke-linejoin="round"/>
<polygon points="694.9,134.9 714.8,130.0 714.0,151.2 694.6,156.6" fill="#6a5d54"/>
<polygon points="696.2,136.0 713.3,131.8 712.6,150.2 696.0,154.7" fill="#f6f6f4" stroke="#f6f6f4" stroke-width="1" stroke-linejoin="round"/>
<polygon points="654.5,168.4 673.8,163.1 674.1,185.2 655.3,191.0" fill="#242d5b"/>
<polygon points="655.9,169.5 672.5,164.9 672.7,184.2 656.7,189.2" fill="#1a3ea6" stroke="#1a3ea6" stroke-width="1" stroke-linejoin="round"/>
<polygon points="674.5,162.9 693.9,157.5 693.7,179.2 674.8,185.0" fill="#242d5b"/>
<polygon points="675.9,163.9 692.5,159.4 692.3,178.2 676.2,183.1" fill="#1a3ea6" stroke="#1a3ea6" stroke-width="1" stroke-linejoin="round"/>
<polygon points="694.6,157.3 714.0,152.0 713.2,173.2 694.4,179.0" fill="#6a5d54"/>
<polygon points="696.0,158.4 712.5,153.8 711.8,172.2 695.8,177.1" fill="#f6f6f4" stroke="#f6f6f4" stroke-width="1" stroke-linejoin="round"/>
<text x="613.3" y="195" fill="#858585" text-anchor="start" style="font-family:'Liberation Serif', serif;font-size:14px;font-style:italic;font-weight:bold;">B<tspan dy="-4.5" dx="0.5" style="font-size:8px">'</tspan></text>
<path d="M99,236.3 C101,229 107,224.5 113,225.6 C119,226.5 123,230 125.2,234.6" fill="none" stroke="#2c4a52" stroke-width="1.6" stroke-linecap="round"/>
<path d="M133.4,252 C135,264 133,275 126,280.5 C120,284.5 113.5,281 111.3,272.3" fill="none" stroke="#2c4a52" stroke-width="1.6" stroke-linecap="round"/>
<polygon points="122.0,232.5 126.8,231.0 127.0,237.5" fill="#3f9bb8"/>
<polygon points="130.8,255.0 133.2,247.0 136.2,255.0" fill="#3f9bb8"/>
<line x1="114.5" y1="254.3" x2="130" y2="250.2" stroke="#777" stroke-width="0.8" stroke-dasharray="1,1"/>
<polygon points="57.1,222.0 76.0,217.5 112.0,252.5 92.0,250.5" fill="#2e1c10" stroke="#2e1c10" stroke-width="1.0" stroke-linejoin="round"/>
<polygon points="57.9,222.2 75.9,217.9 87.2,228.9 68.8,231.1" fill="#881f1d"/>
<polygon points="60.9,222.9 75.5,219.4 84.2,227.9 69.3,229.7" fill="#e3222b" stroke="#e3222b" stroke-width="1" stroke-linejoin="round"/>
<polygon points="69.6,231.7 87.9,229.5 99.1,240.5 80.5,240.6" fill="#6a5d54"/>
<polygon points="73.0,232.7 87.4,231.0 95.7,239.1 81.0,239.2" fill="#f6f6f4" stroke="#f6f6f4" stroke-width="1" stroke-linejoin="round"/>
<polygon points="81.3,241.3 99.9,241.2 111.0,252.1 92.1,250.2" fill="#6a5d54"/>
<polygon points="85.2,242.7 99.3,242.6 107.2,250.3 92.7,248.8" fill="#f6f6f4" stroke="#f6f6f4" stroke-width="1" stroke-linejoin="round"/>
<polygon points="87.0,247.0 93.0,251.0 92.0,313.0 87.0,314.0" fill="#2e1c10"/>
<polygon points="93.0,254.0 111.0,252.5 106.5,308.5 91.5,313.0" fill="#2e1c10" stroke="#2e1c10" stroke-width="1.0" stroke-linejoin="round"/>
<polygon points="93.3,254.3 110.6,252.9 109.2,270.9 92.9,273.3" fill="#1e4b34"/>
<polygon points="94.7,255.6 109.1,254.4 107.9,269.6 94.3,271.6" fill="#0e7a58" stroke="#0e7a58" stroke-width="1" stroke-linejoin="round"/>
<polygon points="92.8,274.0 109.1,271.6 107.7,289.5 92.4,292.9" fill="#1e4b34"/>
<polygon points="94.2,275.2 107.6,273.2 106.4,288.4 93.8,291.1" fill="#0e7a58" stroke="#0e7a58" stroke-width="1" stroke-linejoin="round"/>
<polygon points="92.3,293.6 107.6,290.3 106.2,308.2 91.9,312.5" fill="#6a5d54"/>
<polygon points="93.7,294.7 106.1,292.0 104.9,307.2 93.3,310.6" fill="#f6f6f4" stroke="#f6f6f4" stroke-width="1" stroke-linejoin="round"/>
<polygon points="12.5,234.5 57.1,223.3 89.5,247.5 46.5,256.0" fill="#2e1c10" stroke="#2e1c10" stroke-width="1.0" stroke-linejoin="round"/>
<polygon points="13.4,234.6 34.7,229.3 45.0,236.4 23.9,241.3" fill="#916815"/>
<polygon points="16.9,235.2 34.5,230.8 41.6,235.7 24.1,239.8" fill="#f4b41a" stroke="#f4b41a" stroke-width="1" stroke-linejoin="round"/>
<polygon points="35.6,229.1 57.0,223.7 67.1,231.2 45.9,236.1" fill="#916815"/>
<polygon points="39.0,229.7 56.7,225.2 63.8,230.5 46.2,234.6" fill="#f4b41a" stroke="#f4b41a" stroke-width="1" stroke-linejoin="round"/>
<polygon points="24.7,241.8 45.8,236.9 56.1,244.0 35.2,248.5" fill="#881f1d"/>
<polygon points="28.3,242.4 45.5,238.4 52.6,243.3 35.5,247.0" fill="#e3222b" stroke="#e3222b" stroke-width="1" stroke-linejoin="round"/>
<polygon points="46.7,236.7 67.8,231.7 77.9,239.3 57.0,243.8" fill="#916815"/>
<polygon points="50.1,237.3 67.5,233.3 74.6,238.5 57.3,242.3" fill="#f4b41a" stroke="#f4b41a" stroke-width="1" stroke-linejoin="round"/>
<polygon points="36.1,249.0 56.9,244.5 67.1,251.6 46.6,255.6" fill="#881f1d"/>
<polygon points="39.7,249.6 56.6,246.0 63.6,250.8 46.8,254.1" fill="#e3222b" stroke="#e3222b" stroke-width="1" stroke-linejoin="round"/>
<polygon points="57.8,244.3 78.6,239.8 88.7,247.3 68.1,251.4" fill="#916815"/>
<polygon points="61.3,245.0 78.3,241.3 85.3,246.5 68.4,249.9" fill="#f4b41a" stroke="#f4b41a" stroke-width="1" stroke-linejoin="round"/>
<polygon points="12.5,234.5 46.5,256.0 48.3,324.5 15.5,296.0" fill="#2e1c10" stroke="#2e1c10" stroke-width="1.0" stroke-linejoin="round"/>
<polygon points="12.9,235.2 23.5,241.9 24.3,262.2 13.8,254.8" fill="#8f4017"/>
<polygon points="14.4,237.8 22.1,242.7 22.8,259.5 15.2,254.1" fill="#f0641e" stroke="#f0641e" stroke-width="1" stroke-linejoin="round"/>
<polygon points="24.2,242.3 34.8,249.0 35.5,270.2 25.0,262.8" fill="#916815"/>
<polygon points="25.7,244.9 33.4,249.8 34.0,267.4 26.4,262.0" fill="#f4b41a" stroke="#f4b41a" stroke-width="1" stroke-linejoin="round"/>
<polygon points="35.5,249.5 46.2,256.2 46.7,278.1 36.2,270.7" fill="#916815"/>
<polygon points="37.0,252.1 44.8,257.0 45.3,275.4 37.6,270.0" fill="#f4b41a" stroke="#f4b41a" stroke-width="1" stroke-linejoin="round"/>
<polygon points="13.9,255.7 24.4,263.1 25.2,283.5 14.8,275.3" fill="#8f4017"/>
<polygon points="15.4,258.5 23.0,263.9 23.7,280.5 16.2,274.6" fill="#f0641e" stroke="#f0641e" stroke-width="1" stroke-linejoin="round"/>
<polygon points="25.1,263.6 35.6,271.1 36.3,292.2 25.9,284.0" fill="#8f4017"/>
<polygon points="26.6,266.4 34.2,271.8 34.8,289.2 27.3,283.3" fill="#f0641e" stroke="#f0641e" stroke-width="1" stroke-linejoin="round"/>
<polygon points="36.3,271.6 46.8,279.0 47.3,300.9 37.0,292.8" fill="#8f4017"/>
<polygon points="37.8,274.4 45.4,279.8 45.9,298.0 38.4,292.1" fill="#f0641e" stroke="#f0641e" stroke-width="1" stroke-linejoin="round"/>
<polygon points="14.9,276.3 25.2,284.4 26.1,304.7 15.8,295.8" fill="#8f4017"/>
<polygon points="16.4,279.3 23.9,285.1 24.5,301.5 17.2,295.2" fill="#f0641e" stroke="#f0641e" stroke-width="1" stroke-linejoin="round"/>
<polygon points="25.9,285.0 36.3,293.1 37.0,314.2 26.8,305.3" fill="#8f4017"/>
<polygon points="27.5,288.0 34.9,293.8 35.5,311.0 28.2,304.7" fill="#f0641e" stroke="#f0641e" stroke-width="1" stroke-linejoin="round"/>
<polygon points="37.0,293.7 47.4,301.8 47.9,323.7 37.7,314.8" fill="#8f4017"/>
<polygon points="38.5,296.6 46.0,302.5 46.4,320.6 39.1,314.2" fill="#f0641e" stroke="#f0641e" stroke-width="1" stroke-linejoin="round"/>
<polygon points="46.5,256.0 89.5,248.5 90.0,312.0 48.3,324.5" fill="#2e1c10" stroke="#2e1c10" stroke-width="1.0" stroke-linejoin="round"/>
<polygon points="46.9,256.3 67.7,252.7 68.0,274.0 47.4,278.4" fill="#242d5b"/>
<polygon points="48.3,257.5 66.3,254.3 66.6,272.8 48.8,276.7" fill="#1a3ea6" stroke="#1a3ea6" stroke-width="1" stroke-linejoin="round"/>
<polygon points="68.4,252.5 89.2,248.9 89.3,269.4 68.7,273.8" fill="#242d5b"/>
<polygon points="69.8,253.7 87.8,250.6 87.9,268.3 70.1,272.1" fill="#1a3ea6" stroke="#1a3ea6" stroke-width="1" stroke-linejoin="round"/>
<polygon points="47.5,279.1 68.0,274.7 68.4,296.0 48.0,301.2" fill="#242d5b"/>
<polygon points="48.9,280.2 66.7,276.4 67.0,294.9 49.4,299.4" fill="#1a3ea6" stroke="#1a3ea6" stroke-width="1" stroke-linejoin="round"/>
<polygon points="68.7,274.5 89.3,270.1 89.5,290.6 69.1,295.8" fill="#242d5b"/>
<polygon points="70.2,275.7 87.9,271.8 88.1,289.5 70.5,294.0" fill="#1a3ea6" stroke="#1a3ea6" stroke-width="1" stroke-linejoin="round"/>
<polygon points="48.1,301.9 68.4,296.7 68.8,318.0 48.6,324.0" fill="#242d5b"/>
<polygon points="49.5,303.0 67.1,298.5 67.4,317.0 50.0,322.2" fill="#1a3ea6" stroke="#1a3ea6" stroke-width="1" stroke-linejoin="round"/>
<polygon points="69.1,296.5 89.5,291.3 89.6,311.7 69.5,317.8" fill="#242d5b"/>
<polygon points="70.5,297.6 88.1,293.1 88.2,310.7 70.9,315.9" fill="#1a3ea6" stroke="#1a3ea6" stroke-width="1" stroke-linejoin="round"/>
<text x="14.3" y="326.3" fill="#858585" text-anchor="start" style="font-family:'Liberation Serif', serif;font-size:14px;font-style:italic;font-weight:bold;">R</text>
<path d="M189,321 C182,327 182,337 199,342.5" fill="none" stroke="#2f6f80" stroke-width="1.8" stroke-linecap="round"/>
<path d="M214,345.3 C232,345 245,338 245,330 C245,324 240,319 232,316" fill="none" stroke="#2f7d92" stroke-width="2.2" stroke-linecap="round"/>
<polygon points="195.5,338.0 204.0,344.5 194.0,346.0" fill="#3f9bb8"/>
<line x1="213.7" y1="318" x2="213.7" y2="356" stroke="#777" stroke-width="0.8" stroke-dasharray="1,1"/>
<polygon points="168.5,279.5 199.2,299.2 260.8,285.8 258.5,294.0 193.0,306.0 171.5,287.0" fill="#2e1c10"/>
<polygon points="171.5,281.0 192.5,301.5 193.5,322.0 174.5,300.0" fill="#2e1c10" stroke="#2e1c10" stroke-width="1.0" stroke-linejoin="round"/>
<polygon points="172.0,282.0 178.2,288.0 180.3,306.2 174.8,299.8" fill="#916815"/>
<polygon points="173.9,285.6 177.0,288.6 178.6,302.2 176.0,299.3" fill="#f4b41a" stroke="#f4b41a" stroke-width="1" stroke-linejoin="round"/>
<polygon points="179.0,288.8 185.2,294.8 186.7,313.6 181.2,307.2" fill="#1e4b34"/>
<polygon points="180.8,292.4 183.8,295.4 185.0,309.6 182.5,306.6" fill="#0e7a58" stroke="#0e7a58" stroke-width="1" stroke-linejoin="round"/>
<polygon points="185.9,295.6 192.2,301.7 193.1,321.0 187.5,314.5" fill="#1e4b34"/>
<polygon points="187.6,299.2 190.8,302.3 191.5,317.0 188.9,314.0" fill="#0e7a58" stroke="#0e7a58" stroke-width="1" stroke-linejoin="round"/>
<polygon points="192.5,301.5 258.5,288.5 258.5,310.0 193.5,322.0" fill="#2e1c10" stroke="#2e1c10" stroke-width="1.0" stroke-linejoin="round"/>
<polygon points="192.9,301.8 214.2,297.6 214.8,317.7 193.8,321.6" fill="#8f4017"/>
<polygon points="194.3,302.9 212.8,299.3 213.4,316.6 195.2,319.9" fill="#f0641e" stroke="#f0641e" stroke-width="1" stroke-linejoin="round"/>
<polygon points="214.9,297.5 236.2,293.3 236.5,313.7 215.5,317.6" fill="#8f4017"/>
<polygon points="216.3,298.6 234.8,295.0 235.1,312.5 216.9,315.9" fill="#f0641e" stroke="#f0641e" stroke-width="1" stroke-linejoin="round"/>
<polygon points="236.9,293.1 258.1,288.9 258.1,309.7 237.2,313.6" fill="#8f4017"/>
<polygon points="238.3,294.3 256.8,290.6 256.8,308.5 238.6,311.9" fill="#f0641e" stroke="#f0641e" stroke-width="1" stroke-linejoin="round"/>
<polygon points="164.2,234.2 221.7,220.8 261.7,241.0 197.5,255.0" fill="#2e1c10" stroke="#2e1c10" stroke-width="1.0" stroke-linejoin="round"/>
<polygon points="165.1,234.3 183.3,230.1 194.3,236.5 175.4,240.8" fill="#916815"/>
<polygon points="168.7,234.9 183.1,231.6 190.5,235.9 175.6,239.3" fill="#f4b41a" stroke="#f4b41a" stroke-width="1" stroke-linejoin="round"/>
<polygon points="184.3,229.9 202.5,225.6 214.1,231.9 195.3,236.2" fill="#916815"/>
<polygon points="188.1,230.4 202.3,227.1 210.2,231.4 195.5,234.7" fill="#f4b41a" stroke="#f4b41a" stroke-width="1" stroke-linejoin="round"/>
<polygon points="203.5,225.4 221.7,221.2 234.0,227.4 215.2,231.7" fill="#881f1d"/>
<polygon points="207.4,225.9 221.5,222.6 229.9,226.9 215.4,230.2" fill="#e3222b" stroke="#e3222b" stroke-width="1" stroke-linejoin="round"/>
<polygon points="176.2,241.3 195.2,237.0 206.1,243.3 186.5,247.7" fill="#881f1d"/>
<polygon points="179.8,241.9 194.9,238.5 202.3,242.7 186.7,246.2" fill="#e3222b" stroke="#e3222b" stroke-width="1" stroke-linejoin="round"/>
<polygon points="196.2,236.7 215.1,232.4 226.7,238.7 207.1,243.1" fill="#916815"/>
<polygon points="199.9,237.3 214.9,233.9 222.8,238.2 207.3,241.6" fill="#f4b41a" stroke="#f4b41a" stroke-width="1" stroke-linejoin="round"/>
<polygon points="216.1,232.2 235.0,227.9 247.3,234.1 227.8,238.5" fill="#6a5d54"/>
<polygon points="220.1,232.7 234.8,229.4 243.2,233.6 228.0,237.0" fill="#f6f6f4" stroke="#f6f6f4" stroke-width="1" stroke-linejoin="round"/>
<polygon points="187.3,248.2 207.0,243.8 217.9,250.2 197.6,254.6" fill="#881f1d"/>
<polygon points="191.0,248.8 206.8,245.3 214.1,249.6 197.8,253.1" fill="#e3222b" stroke="#e3222b" stroke-width="1" stroke-linejoin="round"/>
<polygon points="208.0,243.6 227.7,239.2 239.3,245.5 219.0,250.0" fill="#916815"/>
<polygon points="211.8,244.2 227.5,240.7 235.3,245.0 219.2,248.5" fill="#f4b41a" stroke="#f4b41a" stroke-width="1" stroke-linejoin="round"/>
<polygon points="228.7,239.0 248.3,234.6 260.7,240.9 240.4,245.3" fill="#6a5d54"/>
<polygon points="232.7,239.6 248.1,236.1 256.5,240.3 240.6,243.8" fill="#f6f6f4" stroke="#f6f6f4" stroke-width="1" stroke-linejoin="round"/>
<polygon points="164.2,234.2 197.5,255.0 199.2,299.2 168.5,279.5" fill="#2e1c10" stroke="#2e1c10" stroke-width="1.0" stroke-linejoin="round"/>
<polygon points="164.6,234.9 175.0,241.3 176.6,262.9 166.7,256.6" fill="#8f4017"/>
<polygon points="166.3,237.6 173.6,242.1 175.0,260.3 168.0,255.8" fill="#f0641e" stroke="#f0641e" stroke-width="1" stroke-linejoin="round"/>
<polygon points="175.7,241.8 186.1,248.3 187.3,269.7 177.4,263.4" fill="#916815"/>
<polygon points="177.3,244.5 184.7,249.1 185.7,267.0 178.7,262.6" fill="#f4b41a" stroke="#f4b41a" stroke-width="1" stroke-linejoin="round"/>
<polygon points="186.8,248.7 197.2,255.2 198.0,276.4 188.0,270.2" fill="#916815"/>
<polygon points="188.3,251.3 195.8,256.0 196.5,273.8 189.4,269.4" fill="#f4b41a" stroke="#f4b41a" stroke-width="1" stroke-linejoin="round"/>
<polygon points="166.8,257.5 176.7,263.8 178.3,285.4 168.8,279.3" fill="#8f4017"/>
<polygon points="168.4,260.2 175.3,264.6 176.7,282.7 170.2,278.5" fill="#f0641e" stroke="#f0641e" stroke-width="1" stroke-linejoin="round"/>
<polygon points="177.4,264.3 187.3,270.5 188.6,292.0 179.1,285.9" fill="#8f4017"/>
<polygon points="179.0,266.9 186.0,271.3 187.0,289.3 180.4,285.1" fill="#f0641e" stroke="#f0641e" stroke-width="1" stroke-linejoin="round"/>
<polygon points="188.1,271.0 198.0,277.3 198.8,298.5 189.3,292.4" fill="#8f4017"/>
<polygon points="189.6,273.7 196.6,278.1 197.3,295.9 190.7,291.6" fill="#f0641e" stroke="#f0641e" stroke-width="1" stroke-linejoin="round"/>
<polygon points="197.5,255.0 261.7,241.0 260.8,285.8 199.2,299.2" fill="#2e1c10" stroke="#2e1c10" stroke-width="1.0" stroke-linejoin="round"/>
<polygon points="197.9,255.3 218.6,250.8 219.0,272.3 198.7,276.7" fill="#242d5b"/>
<polygon points="199.3,256.4 217.2,252.5 217.5,271.1 200.0,274.9" fill="#1a3ea6" stroke="#1a3ea6" stroke-width="1" stroke-linejoin="round"/>
<polygon points="219.3,250.6 239.9,246.1 239.9,267.7 219.7,272.1" fill="#242d5b"/>
<polygon points="220.7,251.7 238.5,247.8 238.5,266.6 221.0,270.4" fill="#1a3ea6" stroke="#1a3ea6" stroke-width="1" stroke-linejoin="round"/>
<polygon points="240.6,245.9 261.3,241.4 260.9,263.1 240.6,267.5" fill="#1e4b34"/>
<polygon points="242.0,247.1 259.9,243.2 259.5,262.0 242.0,265.8" fill="#0e7a58" stroke="#0e7a58" stroke-width="1" stroke-linejoin="round"/>
<polygon points="198.7,277.4 219.0,273.0 219.4,294.5 199.5,298.8" fill="#242d5b"/>
<polygon points="200.2,278.5 217.6,274.7 218.0,293.3 200.9,297.0" fill="#1a3ea6" stroke="#1a3ea6" stroke-width="1" stroke-linejoin="round"/>
<polygon points="219.7,272.8 239.9,268.4 239.9,290.0 220.1,294.3" fill="#242d5b"/>
<polygon points="221.1,273.9 238.5,270.1 238.5,288.9 221.4,292.6" fill="#1a3ea6" stroke="#1a3ea6" stroke-width="1" stroke-linejoin="round"/>
<polygon points="240.6,268.2 260.9,263.8 260.5,285.5 240.6,289.8" fill="#1e4b34"/>
<polygon points="242.0,269.4 259.5,265.6 259.1,284.4 242.0,288.1" fill="#0e7a58" stroke="#0e7a58" stroke-width="1" stroke-linejoin="round"/>
<text x="164.5" y="326.5" fill="#858585" text-anchor="start" style="font-family:'Liberation Serif', serif;font-size:14px;font-style:italic;font-weight:bold;">D</text>
<path d="M304.2,216.9 A24.6,25.6 0 0 1 338.7,226.2" fill="none" stroke="#262626" stroke-width="1.7" stroke-linecap="round"/>
<path d="M295.3,227.0 A24.6,25.6 0 0 0 313.8,264.0" fill="none" stroke="#262626" stroke-width="1.7" stroke-linecap="round"/>
<path d="M304.2,216.9 A24.6,25.6 0 0 1 308.8,214.5" fill="none" stroke="#262626" stroke-width="2.6" stroke-linecap="round"/>
<path d="M295.3,227.0 A24.6,25.6 0 0 0 293.4,232.0" fill="none" stroke="#262626" stroke-width="2.6" stroke-linecap="round"/>
<line x1="304.5" y1="228" x2="315.5" y2="236" stroke="#777" stroke-width="0.8" stroke-dasharray="1,1"/>
<polygon points="312.2,243.0 369.0,220.0 381.0,227.6 326.0,246.0" fill="#2e1c10" stroke="#2e1c10" stroke-width="1.0" stroke-linejoin="round"/>
<polygon points="313.4,242.9 331.1,235.7 343.2,239.9 326.0,245.6" fill="#916815"/>
<polygon points="318.1,242.5 331.2,237.2 338.9,239.8 325.9,244.2" fill="#f4b41a" stroke="#f4b41a" stroke-width="1" stroke-linejoin="round"/>
<polygon points="332.1,235.3 350.1,228.0 361.7,233.7 344.3,239.5" fill="#8f4017"/>
<polygon points="336.1,235.2 350.0,229.6 358.0,233.4 344.3,238.0" fill="#f0641e" stroke="#f0641e" stroke-width="1" stroke-linejoin="round"/>
<polygon points="350.9,227.7 369.0,220.4 380.2,227.5 362.7,233.4" fill="#8f4017"/>
<polygon points="354.4,227.8 368.8,222.0 377.0,227.1 362.8,231.8" fill="#f0641e" stroke="#f0641e" stroke-width="1" stroke-linejoin="round"/>
<polygon points="312.2,246.0 326.0,249.0 329.0,298.0 323.0,292.0" fill="#2e1c10" stroke="#2e1c10" stroke-width="1.0" stroke-linejoin="round"/>
<polygon points="312.7,246.5 325.7,249.3 326.6,264.8 316.1,261.1" fill="#242d5b"/>
<polygon points="314.5,248.3 324.3,250.4 325.1,262.8 317.3,260.0" fill="#1a3ea6" stroke="#1a3ea6" stroke-width="1" stroke-linejoin="round"/>
<polygon points="316.3,261.9 326.7,265.6 327.6,281.0 319.7,276.4" fill="#881f1d"/>
<polygon points="318.2,264.1 325.3,266.6 326.1,278.5 320.9,275.5" fill="#e3222b" stroke="#e3222b" stroke-width="1" stroke-linejoin="round"/>
<polygon points="319.9,277.4 327.7,281.9 328.6,297.1 323.3,291.8" fill="#8f4017"/>
<polygon points="321.9,280.1 326.4,282.7 327.0,293.7 324.5,291.1" fill="#f0641e" stroke="#f0641e" stroke-width="1" stroke-linejoin="round"/>
<polygon points="326.0,246.5 381.0,227.5 413.0,242.0 348.5,257.3" fill="#2e1c10" stroke="#2e1c10" stroke-width="1.0" stroke-linejoin="round"/>
<polygon points="326.9,246.6 344.3,240.5 356.2,246.1 337.3,251.5" fill="#881f1d"/>
<polygon points="330.6,246.8 344.2,242.1 352.2,245.8 337.4,250.0" fill="#e3222b" stroke="#e3222b" stroke-width="1" stroke-linejoin="round"/>
<polygon points="345.3,240.2 362.6,234.2 376.1,240.4 357.2,245.8" fill="#916815"/>
<polygon points="349.0,240.4 362.6,235.7 372.1,240.1 357.3,244.3" fill="#f4b41a" stroke="#f4b41a" stroke-width="1" stroke-linejoin="round"/>
<polygon points="363.6,233.9 381.0,227.9 396.0,234.7 377.1,240.1" fill="#6a5d54"/>
<polygon points="367.4,234.1 380.9,229.4 391.9,234.4 377.2,238.6" fill="#f6f6f4" stroke="#f6f6f4" stroke-width="1" stroke-linejoin="round"/>
<polygon points="338.2,252.0 357.1,246.6 368.9,252.1 348.5,256.9" fill="#881f1d"/>
<polygon points="342.2,252.3 357.0,248.0 364.7,251.7 348.7,255.5" fill="#e3222b" stroke="#e3222b" stroke-width="1" stroke-linejoin="round"/>
<polygon points="358.2,246.3 377.1,240.8 390.4,247.0 370.0,251.8" fill="#916815"/>
<polygon points="362.1,246.6 376.9,242.3 386.2,246.6 370.2,250.4" fill="#f4b41a" stroke="#f4b41a" stroke-width="1" stroke-linejoin="round"/>
<polygon points="378.1,240.5 397.0,235.1 411.9,241.9 391.5,246.7" fill="#6a5d54"/>
<polygon points="382.1,240.8 396.9,236.6 407.6,241.5 391.7,245.3" fill="#f6f6f4" stroke="#f6f6f4" stroke-width="1" stroke-linejoin="round"/>
<polygon points="326.0,246.5 348.5,257.3 352.5,323.5 329.0,298.5" fill="#2e1c10" stroke="#2e1c10" stroke-width="1.0" stroke-linejoin="round"/>
<polygon points="326.4,247.1 336.9,252.1 338.0,270.9 327.3,263.6" fill="#916815"/>
<polygon points="327.9,249.4 335.6,253.0 336.5,268.2 328.7,262.9" fill="#f4b41a" stroke="#f4b41a" stroke-width="1" stroke-linejoin="round"/>
<polygon points="337.6,252.5 348.2,257.5 349.4,278.7 338.8,271.4" fill="#916815"/>
<polygon points="339.2,254.8 346.8,258.4 347.9,275.9 340.1,270.6" fill="#f4b41a" stroke="#f4b41a" stroke-width="1" stroke-linejoin="round"/>
<polygon points="327.4,264.5 338.1,271.8 339.2,290.5 328.3,281.0" fill="#8f4017"/>
<polygon points="329.0,267.3 336.7,272.6 337.6,287.2 329.7,280.3" fill="#f0641e" stroke="#f0641e" stroke-width="1" stroke-linejoin="round"/>
<polygon points="338.8,272.3 349.5,279.6 350.8,300.6 339.9,291.1" fill="#8f4017"/>
<polygon points="340.4,275.0 348.1,280.3 349.2,297.4 341.3,290.5" fill="#f0641e" stroke="#f0641e" stroke-width="1" stroke-linejoin="round"/>
<polygon points="328.4,282.0 339.2,291.5 340.3,310.1 329.3,298.4" fill="#1e4b34"/>
<polygon points="330.0,285.2 337.9,292.1 338.7,306.3 330.7,297.8" fill="#0e7a58" stroke="#0e7a58" stroke-width="1" stroke-linejoin="round"/>
<polygon points="340.0,292.1 350.8,301.6 352.1,322.6 341.1,310.9" fill="#1e4b34"/>
<polygon points="341.6,295.4 349.5,302.3 350.5,318.8 342.5,310.3" fill="#0e7a58" stroke="#0e7a58" stroke-width="1" stroke-linejoin="round"/>
<polygon points="348.5,257.3 413.0,242.0 409.5,306.5 352.5,323.5" fill="#2e1c10" stroke="#2e1c10" stroke-width="1.0" stroke-linejoin="round"/>
<polygon points="348.9,257.6 369.7,252.6 370.1,273.8 350.2,278.9" fill="#242d5b"/>
<polygon points="350.3,258.7 368.3,254.4 368.7,272.7 351.5,277.1" fill="#1a3ea6" stroke="#1a3ea6" stroke-width="1" stroke-linejoin="round"/>
<polygon points="370.4,252.5 391.1,247.5 390.8,268.5 370.8,273.6" fill="#242d5b"/>
<polygon points="371.8,253.6 389.7,249.3 389.4,267.4 372.2,271.8" fill="#1a3ea6" stroke="#1a3ea6" stroke-width="1" stroke-linejoin="round"/>
<polygon points="391.8,247.4 412.6,242.4 411.5,263.2 391.5,268.3" fill="#1e4b34"/>
<polygon points="393.2,248.5 411.1,244.2 410.2,262.1 393.0,266.5" fill="#0e7a58" stroke="#0e7a58" stroke-width="1" stroke-linejoin="round"/>
<polygon points="350.2,279.6 370.2,274.5 370.6,295.7 351.5,301.0" fill="#242d5b"/>
<polygon points="351.7,280.7 368.8,276.3 369.2,294.6 352.8,299.2" fill="#1a3ea6" stroke="#1a3ea6" stroke-width="1" stroke-linejoin="round"/>
<polygon points="370.9,274.3 390.8,269.2 390.5,290.2 371.3,295.5" fill="#242d5b"/>
<polygon points="372.3,275.4 389.4,271.1 389.1,289.1 372.7,293.7" fill="#1a3ea6" stroke="#1a3ea6" stroke-width="1" stroke-linejoin="round"/>
<polygon points="391.5,269.1 411.5,264.0 410.3,284.7 391.2,290.0" fill="#1e4b34"/>
<polygon points="392.9,270.2 410.0,265.8 409.0,283.6 392.6,288.2" fill="#0e7a58" stroke="#0e7a58" stroke-width="1" stroke-linejoin="round"/>
<polygon points="351.5,301.7 370.7,296.4 371.1,317.6 352.8,323.0" fill="#8f4017"/>
<polygon points="353.0,302.7 369.3,298.2 369.7,316.5 354.1,321.2" fill="#f0641e" stroke="#f0641e" stroke-width="1" stroke-linejoin="round"/>
<polygon points="371.4,296.2 390.5,290.9 390.2,311.9 371.8,317.4" fill="#8f4017"/>
<polygon points="372.8,297.3 389.0,292.8 388.8,310.9 373.2,315.5" fill="#f0641e" stroke="#f0641e" stroke-width="1" stroke-linejoin="round"/>
<polygon points="391.2,290.7 410.3,285.5 409.2,306.2 390.9,311.7" fill="#8f4017"/>
<polygon points="392.6,291.8 408.8,287.3 407.8,305.2 392.3,309.8" fill="#f0641e" stroke="#f0641e" stroke-width="1" stroke-linejoin="round"/>
<text x="311.3" y="326.3" fill="#858585" text-anchor="start" style="font-family:'Liberation Serif', serif;font-size:14px;font-style:italic;font-weight:bold;">B<tspan dy="-4.5" dx="0.5" style="font-size:8px">'</tspan></text>
<g transform="rotate(-8 450.5 282)"><path d="M459,260.5 A15.5,31.5 0 1 0 465.5,287" fill="none" stroke="#2a6f92" stroke-width="4.2"/><path d="M459,260.5 A15.5,31.5 0 1 0 465.5,287" fill="none" stroke="#62b0d8" stroke-width="2.8"/></g>
<polygon points="458.5,290.0 463.5,277.5 469.0,291.0" fill="#4aa3d0" stroke="#2a6f92" stroke-width="0.7"/>
<line x1="424.6" y1="293.3" x2="462.3" y2="283.2" stroke="#777" stroke-width="0.8" stroke-dasharray="1,1"/>
<polygon points="490.0,225.5 494.0,225.0 527.0,251.0 525.0,315.0 520.0,319.0 523.0,261.0" fill="#2e1c10"/>
<polygon points="492.8,225.7 527.2,220.3 562.4,240.2 525.7,251.0" fill="#2e1c10" stroke="#2e1c10" stroke-width="1.0" stroke-linejoin="round"/>
<polygon points="493.7,225.9 509.9,223.4 520.5,230.4 503.9,233.8" fill="#8f4017"/>
<polygon points="497.1,226.8 509.6,224.8 516.9,229.7 504.2,232.3" fill="#f0641e" stroke="#f0641e" stroke-width="1" stroke-linejoin="round"/>
<polygon points="510.9,223.2 527.1,220.7 537.9,226.8 521.4,230.2" fill="#8f4017"/>
<polygon points="514.7,224.0 526.9,222.1 534.0,226.2 521.7,228.7" fill="#f0641e" stroke="#f0641e" stroke-width="1" stroke-linejoin="round"/>
<polygon points="504.6,234.3 521.3,230.9 531.8,237.9 514.8,242.2" fill="#916815"/>
<polygon points="507.9,235.1 521.0,232.4 528.4,237.3 515.1,240.7" fill="#f4b41a" stroke="#f4b41a" stroke-width="1" stroke-linejoin="round"/>
<polygon points="522.2,230.7 538.9,227.3 549.7,233.4 532.8,237.7" fill="#6a5d54"/>
<polygon points="525.8,231.4 538.6,228.8 546.0,232.9 533.0,236.2" fill="#f6f6f4" stroke="#f6f6f4" stroke-width="1" stroke-linejoin="round"/>
<polygon points="515.5,242.7 532.6,238.4 543.2,245.5 525.8,250.6" fill="#916815"/>
<polygon points="518.7,243.4 532.4,240.0 540.0,245.0 526.1,249.1" fill="#f4b41a" stroke="#f4b41a" stroke-width="1" stroke-linejoin="round"/>
<polygon points="533.6,238.2 550.6,233.9 561.5,240.1 544.1,245.2" fill="#6a5d54"/>
<polygon points="537.0,238.8 550.4,235.4 557.9,239.7 544.3,243.7" fill="#f6f6f4" stroke="#f6f6f4" stroke-width="1" stroke-linejoin="round"/>
<polygon points="525.0,251.7 562.4,241.0 562.4,302.8 523.4,314.3" fill="#2e1c10" stroke="#2e1c10" stroke-width="1.0" stroke-linejoin="round"/>
<polygon points="525.3,252.0 543.3,246.8 543.1,266.8 524.8,272.1" fill="#242d5b"/>
<polygon points="526.7,253.0 541.9,248.7 541.7,265.8 526.3,270.2" fill="#1a3ea6" stroke="#1a3ea6" stroke-width="1" stroke-linejoin="round"/>
<polygon points="544.0,246.6 562.0,241.5 562.0,261.3 543.8,266.6" fill="#1e4b34"/>
<polygon points="545.4,247.7 560.6,243.3 560.6,260.3 545.2,264.7" fill="#0e7a58" stroke="#0e7a58" stroke-width="1" stroke-linejoin="round"/>
<polygon points="524.8,272.8 543.1,267.6 542.8,287.6 524.3,293.0" fill="#242d5b"/>
<polygon points="526.2,273.9 541.7,269.4 541.4,286.5 525.7,291.1" fill="#1a3ea6" stroke="#1a3ea6" stroke-width="1" stroke-linejoin="round"/>
<polygon points="543.8,267.3 562.0,262.1 562.0,281.9 543.5,287.3" fill="#1e4b34"/>
<polygon points="545.2,268.4 560.6,263.9 560.6,280.9 544.9,285.5" fill="#0e7a58" stroke="#0e7a58" stroke-width="1" stroke-linejoin="round"/>
<polygon points="524.3,293.7 542.8,288.3 542.6,308.3 523.8,313.8" fill="#8f4017"/>
<polygon points="525.7,294.8 541.4,290.2 541.2,307.2 525.2,311.9" fill="#f0641e" stroke="#f0641e" stroke-width="1" stroke-linejoin="round"/>
<polygon points="543.5,288.1 562.0,282.7 562.0,302.5 543.3,308.1" fill="#8f4017"/>
<polygon points="544.9,289.1 560.6,284.5 560.6,301.5 544.7,306.2" fill="#f0641e" stroke="#f0641e" stroke-width="1" stroke-linejoin="round"/>
<polygon points="468.4,229.5 491.5,225.0 524.2,260.0 503.5,264.0" fill="#2e1c10" stroke="#2e1c10" stroke-width="1.0" stroke-linejoin="round"/>
<polygon points="469.1,229.7 491.4,225.4 501.7,236.4 480.2,240.6" fill="#242d5b"/>
<polygon points="472.0,230.6 490.9,226.9 499.0,235.6 480.7,239.1" fill="#1a3ea6" stroke="#1a3ea6" stroke-width="1" stroke-linejoin="round"/>
<polygon points="480.8,241.2 502.3,237.0 512.6,248.1 491.9,252.1" fill="#242d5b"/>
<polygon points="483.7,242.1 501.8,238.6 509.9,247.2 492.4,250.6" fill="#1a3ea6" stroke="#1a3ea6" stroke-width="1" stroke-linejoin="round"/>
<polygon points="492.5,252.7 513.2,248.7 523.5,259.8 503.6,263.6" fill="#8f4017"/>
<polygon points="495.4,253.6 512.7,250.2 520.8,258.9 504.1,262.1" fill="#f0641e" stroke="#f0641e" stroke-width="1" stroke-linejoin="round"/>
<polygon points="468.4,230.3 503.5,264.5 501.5,324.5 467.5,290.5" fill="#2e1c10" stroke="#2e1c10" stroke-width="1.0" stroke-linejoin="round"/>
<polygon points="468.7,231.1 479.7,241.8 479.3,260.9 468.5,250.2" fill="#916815"/>
<polygon points="470.1,234.4 478.3,242.4 478.0,257.7 469.9,249.6" fill="#f4b41a" stroke="#f4b41a" stroke-width="1" stroke-linejoin="round"/>
<polygon points="480.4,242.5 491.4,253.2 490.9,272.3 480.0,261.6" fill="#8f4017"/>
<polygon points="481.8,245.8 490.0,253.8 489.6,269.1 481.4,261.0" fill="#f0641e" stroke="#f0641e" stroke-width="1" stroke-linejoin="round"/>
<polygon points="492.1,253.9 503.1,264.6 502.5,283.7 491.6,273.0" fill="#1e4b34"/>
<polygon points="493.4,257.1 501.7,265.2 501.2,280.5 493.0,272.4" fill="#0e7a58" stroke="#0e7a58" stroke-width="1" stroke-linejoin="round"/>
<polygon points="468.4,251.2 479.3,261.9 478.9,281.0 468.2,270.3" fill="#916815"/>
<polygon points="469.8,254.5 477.9,262.5 477.6,277.7 469.6,269.7" fill="#f4b41a" stroke="#f4b41a" stroke-width="1" stroke-linejoin="round"/>
<polygon points="480.0,262.6 490.9,273.3 490.4,292.3 479.6,281.6" fill="#8f4017"/>
<polygon points="481.3,265.8 489.5,273.8 489.1,289.1 481.0,281.1" fill="#f0641e" stroke="#f0641e" stroke-width="1" stroke-linejoin="round"/>
<polygon points="491.6,273.9 502.5,284.6 501.8,303.7 491.1,293.0" fill="#1e4b34"/>
<polygon points="492.9,277.2 501.1,285.2 500.6,300.4 492.5,292.4" fill="#0e7a58" stroke="#0e7a58" stroke-width="1" stroke-linejoin="round"/>
<polygon points="468.1,271.3 478.9,281.9 478.5,301.0 467.9,290.4" fill="#242d5b"/>
<polygon points="469.5,274.6 477.5,282.5 477.2,297.7 469.3,289.8" fill="#1a3ea6" stroke="#1a3ea6" stroke-width="1" stroke-linejoin="round"/>
<polygon points="479.6,282.6 490.4,293.3 489.8,312.3 479.2,301.7" fill="#881f1d"/>
<polygon points="480.9,285.9 488.9,293.9 488.5,309.1 480.6,301.1" fill="#e3222b" stroke="#e3222b" stroke-width="1" stroke-linejoin="round"/>
<polygon points="491.0,294.0 501.8,304.6 501.2,323.7 490.5,313.0" fill="#881f1d"/>
<polygon points="492.4,297.2 500.4,305.2 499.9,320.4 491.9,312.5" fill="#e3222b" stroke="#e3222b" stroke-width="1" stroke-linejoin="round"/>
<polygon points="504.0,265.0 524.3,260.5 520.5,318.0 502.0,324.5" fill="#2e1c10" stroke="#2e1c10" stroke-width="1.0" stroke-linejoin="round"/>
<polygon points="504.3,265.3 523.9,260.9 522.7,279.4 503.7,284.4" fill="#6a5d54"/>
<polygon points="505.7,266.4 522.4,262.7 521.4,278.3 505.2,282.5" fill="#f6f6f4" stroke="#f6f6f4" stroke-width="1" stroke-linejoin="round"/>
<polygon points="503.7,285.1 522.7,280.1 521.4,298.6 503.0,304.2" fill="#6a5d54"/>
<polygon points="505.0,286.2 521.1,282.0 520.1,297.5 504.5,302.3" fill="#f6f6f4" stroke="#f6f6f4" stroke-width="1" stroke-linejoin="round"/>
<polygon points="503.0,304.9 521.4,299.3 520.2,317.7 502.4,324.0" fill="#6a5d54"/>
<polygon points="504.4,306.0 519.9,301.2 518.8,316.7 503.8,322.0" fill="#f6f6f4" stroke="#f6f6f4" stroke-width="1" stroke-linejoin="round"/>
<text x="474.3" y="325.8" fill="#858585" text-anchor="start" style="font-family:'Liberation Serif', serif;font-size:14px;font-style:italic;font-weight:bold;">L<tspan dy="-4.5" dx="0.5" style="font-size:8px">'</tspan></text>
<path d="M606.7,215.9 A24.6,26 0 0 1 642.1,224.2" fill="none" stroke="#262626" stroke-width="1.7" stroke-linecap="round"/>
<path d="M598.5,226.2 A24.6,26 0 0 0 617.0,262.9" fill="none" stroke="#262626" stroke-width="1.7" stroke-linecap="round"/>
<path d="M606.7,215.9 A24.6,26 0 0 1 611.2,213.3" fill="none" stroke="#262626" stroke-width="2.6" stroke-linecap="round"/>
<path d="M598.5,226.2 A24.6,26 0 0 0 596.8,231.4" fill="none" stroke="#262626" stroke-width="2.6" stroke-linecap="round"/>
<line x1="606" y1="227" x2="617.5" y2="235" stroke="#777" stroke-width="0.8" stroke-dasharray="1,1"/>
<polygon points="613.0,241.4 669.5,217.5 684.5,225.0 628.0,245.0" fill="#2e1c10" stroke="#2e1c10" stroke-width="1.0" stroke-linejoin="round"/>
<polygon points="614.1,241.3 631.8,233.8 645.7,238.3 628.0,244.6" fill="#242d5b"/>
<polygon points="618.6,240.9 631.9,235.3 641.4,238.4 627.9,243.2" fill="#1a3ea6" stroke="#1a3ea6" stroke-width="1" stroke-linejoin="round"/>
<polygon points="632.8,233.4 650.7,225.8 664.7,231.6 646.8,238.0" fill="#916815"/>
<polygon points="636.8,233.2 650.7,227.4 660.8,231.5 646.8,236.5" fill="#f4b41a" stroke="#f4b41a" stroke-width="1" stroke-linejoin="round"/>
<polygon points="651.6,225.5 669.5,217.9 683.6,224.9 665.7,231.3" fill="#916815"/>
<polygon points="655.2,225.4 669.4,219.4 680.0,224.7 665.7,229.8" fill="#f4b41a" stroke="#f4b41a" stroke-width="1" stroke-linejoin="round"/>
<polygon points="613.0,243.0 628.0,247.5 631.0,297.0 624.5,291.0" fill="#2e1c10" stroke="#2e1c10" stroke-width="1.0" stroke-linejoin="round"/>
<polygon points="613.5,243.5 627.7,247.8 628.6,263.5 617.1,258.7" fill="#8f4017"/>
<polygon points="615.4,245.6 626.3,248.8 627.1,261.3 618.3,257.7" fill="#f0641e" stroke="#f0641e" stroke-width="1" stroke-linejoin="round"/>
<polygon points="617.3,259.6 628.7,264.2 629.6,279.9 621.0,274.8" fill="#8f4017"/>
<polygon points="619.3,261.9 627.3,265.2 628.1,277.3 622.2,273.9" fill="#f0641e" stroke="#f0641e" stroke-width="1" stroke-linejoin="round"/>
<polygon points="621.2,275.7 629.7,280.7 630.6,296.2 624.8,290.8" fill="#1e4b34"/>
<polygon points="623.3,278.6 628.3,281.5 629.0,292.8 626.1,290.1" fill="#0e7a58" stroke="#0e7a58" stroke-width="1" stroke-linejoin="round"/>
<polygon points="628.0,245.0 684.5,225.5 714.3,238.5 652.0,256.5" fill="#2e1c10" stroke="#2e1c10" stroke-width="1.0" stroke-linejoin="round"/>
<polygon points="628.9,245.1 646.8,238.9 658.8,244.4 640.0,250.4" fill="#242d5b"/>
<polygon points="632.6,245.3 646.7,240.4 655.0,244.2 640.1,248.9" fill="#1a3ea6" stroke="#1a3ea6" stroke-width="1" stroke-linejoin="round"/>
<polygon points="647.8,238.5 665.6,232.4 678.6,238.2 659.8,244.1" fill="#916815"/>
<polygon points="651.5,238.7 665.6,233.9 674.7,238.0 659.9,242.6" fill="#f4b41a" stroke="#f4b41a" stroke-width="1" stroke-linejoin="round"/>
<polygon points="666.6,232.0 684.5,225.9 698.4,231.9 679.6,237.9" fill="#6a5d54"/>
<polygon points="670.4,232.2 684.4,227.4 694.4,231.7 679.7,236.4" fill="#f6f6f4" stroke="#f6f6f4" stroke-width="1" stroke-linejoin="round"/>
<polygon points="641.0,250.8 659.8,244.9 671.8,250.4 652.0,256.1" fill="#8f4017"/>
<polygon points="644.8,251.1 659.7,246.4 667.8,250.1 652.2,254.6" fill="#f0641e" stroke="#f0641e" stroke-width="1" stroke-linejoin="round"/>
<polygon points="660.8,244.6 679.6,238.6 692.5,244.4 672.8,250.1" fill="#916815"/>
<polygon points="664.6,244.8 679.5,240.1 688.5,244.1 672.9,248.6" fill="#f4b41a" stroke="#f4b41a" stroke-width="1" stroke-linejoin="round"/>
<polygon points="680.6,238.3 699.4,232.4 713.3,238.4 693.6,244.1" fill="#6a5d54"/>
<polygon points="684.5,238.5 699.3,233.9 709.2,238.2 693.7,242.6" fill="#f6f6f4" stroke="#f6f6f4" stroke-width="1" stroke-linejoin="round"/>
<polygon points="628.0,245.0 652.0,256.5 654.5,323.7 631.0,295.0" fill="#2e1c10" stroke="#2e1c10" stroke-width="1.0" stroke-linejoin="round"/>
<polygon points="628.4,245.6 639.7,251.0 640.5,269.6 629.3,261.5" fill="#8f4017"/>
<polygon points="629.9,247.9 638.3,251.9 639.0,266.7 630.7,260.7" fill="#f0641e" stroke="#f0641e" stroke-width="1" stroke-linejoin="round"/>
<polygon points="640.4,251.3 651.7,256.7 652.5,278.2 641.3,270.1" fill="#1e4b34"/>
<polygon points="641.9,253.6 650.3,257.6 651.0,275.4 642.6,269.4" fill="#0e7a58" stroke="#0e7a58" stroke-width="1" stroke-linejoin="round"/>
<polygon points="629.4,262.4 640.6,270.5 641.4,288.9 630.3,278.2" fill="#8f4017"/>
<polygon points="631.0,265.2 639.2,271.2 639.9,285.5 631.7,277.6" fill="#f0641e" stroke="#f0641e" stroke-width="1" stroke-linejoin="round"/>
<polygon points="641.3,271.0 652.5,279.1 653.3,300.4 642.2,289.7" fill="#1e4b34"/>
<polygon points="642.8,273.8 651.1,279.8 651.8,297.0 643.5,289.0" fill="#0e7a58" stroke="#0e7a58" stroke-width="1" stroke-linejoin="round"/>
<polygon points="630.4,279.2 641.5,290.0 642.4,308.3 631.3,294.9" fill="#881f1d"/>
<polygon points="632.0,282.7 640.1,290.6 640.8,304.2 632.7,294.3" fill="#e3222b" stroke="#e3222b" stroke-width="1" stroke-linejoin="round"/>
<polygon points="642.2,290.7 653.3,301.5 654.1,322.7 643.1,309.2" fill="#881f1d"/>
<polygon points="643.8,294.2 651.9,302.1 652.6,318.6 644.5,308.7" fill="#e3222b" stroke="#e3222b" stroke-width="1" stroke-linejoin="round"/>
<polygon points="652.0,256.5 714.3,238.5 713.5,302.0 654.5,323.7" fill="#2e1c10" stroke="#2e1c10" stroke-width="1.0" stroke-linejoin="round"/>
<polygon points="652.4,256.8 672.4,251.0 672.9,272.2 653.2,278.4" fill="#6a5d54"/>
<polygon points="653.8,257.8 671.1,252.8 671.5,271.2 654.5,276.5" fill="#f6f6f4" stroke="#f6f6f4" stroke-width="1" stroke-linejoin="round"/>
<polygon points="673.1,250.8 693.2,245.0 693.3,265.8 673.6,272.0" fill="#242d5b"/>
<polygon points="674.5,251.8 691.8,246.8 691.9,264.8 674.9,270.1" fill="#1a3ea6" stroke="#1a3ea6" stroke-width="1" stroke-linejoin="round"/>
<polygon points="693.9,244.8 713.9,239.0 713.7,259.4 694.0,265.6" fill="#1e4b34"/>
<polygon points="695.3,245.8 712.5,240.8 712.3,258.4 695.4,263.7" fill="#0e7a58" stroke="#0e7a58" stroke-width="1" stroke-linejoin="round"/>
<polygon points="653.2,279.2 672.9,273.0 673.3,294.2 654.0,300.8" fill="#6a5d54"/>
<polygon points="654.6,280.2 671.5,274.9 671.9,293.2 655.3,298.9" fill="#f6f6f4" stroke="#f6f6f4" stroke-width="1" stroke-linejoin="round"/>
<polygon points="673.6,272.7 693.3,266.6 693.4,287.4 674.0,294.0" fill="#242d5b"/>
<polygon points="675.0,273.8 691.9,268.5 692.0,286.4 675.4,292.1" fill="#1a3ea6" stroke="#1a3ea6" stroke-width="1" stroke-linejoin="round"/>
<polygon points="694.0,266.3 713.7,260.1 713.4,280.6 694.1,287.2" fill="#1e4b34"/>
<polygon points="695.4,267.4 712.3,262.1 712.0,279.6 695.5,285.2" fill="#0e7a58" stroke="#0e7a58" stroke-width="1" stroke-linejoin="round"/>
<polygon points="654.0,301.5 673.4,295.0 673.8,316.2 654.8,323.2" fill="#6a5d54"/>
<polygon points="655.5,302.5 672.0,296.9 672.4,315.3 656.2,321.2" fill="#f6f6f4" stroke="#f6f6f4" stroke-width="1" stroke-linejoin="round"/>
<polygon points="674.1,294.7 693.4,288.1 693.5,309.0 674.5,316.0" fill="#8f4017"/>
<polygon points="675.5,295.7 692.0,290.1 692.1,308.0 675.9,314.0" fill="#f0641e" stroke="#f0641e" stroke-width="1" stroke-linejoin="round"/>
<polygon points="694.1,287.9 713.4,281.3 713.2,301.8 694.2,308.7" fill="#8f4017"/>
<polygon points="695.5,288.9 712.0,283.3 711.8,300.8 695.6,306.7" fill="#f0641e" stroke="#f0641e" stroke-width="1" stroke-linejoin="round"/>
<text x="613" y="326.5" fill="#858585" text-anchor="start" style="font-family:'Liberation Serif', serif;font-size:14px;font-style:italic;font-weight:bold;">B<tspan dy="-4.5" dx="0.5" style="font-size:8px">'</tspan></text>
<polygon points="0.0,396.0 8.5,403.0 6.0,414.0 0.0,410.0" fill="#3aa6c6"/>
<path d="M13.5,428 C15,440 12,452 0,456" fill="none" stroke="#2a6f92" stroke-width="4.6"/>
<path d="M13.5,428 C15,440 12,452 0,456" fill="none" stroke="#55aad0" stroke-width="3.2"/>
<line x1="0" y1="421.5" x2="15.5" y2="417.8" stroke="#777" stroke-width="0.8" stroke-dasharray="1,1"/>
<polygon points="34.2,365.0 70.0,357.5 108.3,377.0 66.7,385.8" fill="#2e1c10" stroke="#2e1c10" stroke-width="1.0" stroke-linejoin="round"/>
<polygon points="35.1,365.2 52.0,361.6 62.9,367.8 45.1,371.6" fill="#916815"/>
<polygon points="38.8,365.8 51.8,363.1 59.0,367.2 45.4,370.1" fill="#f4b41a" stroke="#f4b41a" stroke-width="1" stroke-linejoin="round"/>
<polygon points="53.1,361.4 70.0,357.9 81.7,363.9 64.0,367.6" fill="#916815"/>
<polygon points="57.0,362.0 69.8,359.3 77.6,363.3 64.2,366.1" fill="#f4b41a" stroke="#f4b41a" stroke-width="1" stroke-linejoin="round"/>
<polygon points="45.9,372.1 63.8,368.3 74.7,374.5 55.9,378.5" fill="#916815"/>
<polygon points="49.6,372.8 63.6,369.8 70.8,373.9 56.2,377.0" fill="#f4b41a" stroke="#f4b41a" stroke-width="1" stroke-linejoin="round"/>
<polygon points="64.9,368.1 82.7,364.4 94.5,370.4 75.8,374.3" fill="#6a5d54"/>
<polygon points="68.8,368.7 82.5,365.8 90.3,369.8 76.0,372.8" fill="#f6f6f4" stroke="#f6f6f4" stroke-width="1" stroke-linejoin="round"/>
<polygon points="56.8,379.0 75.6,375.1 86.5,381.2 66.8,385.4" fill="#916815"/>
<polygon points="60.4,379.7 75.4,376.5 82.6,380.6 67.0,383.9" fill="#f4b41a" stroke="#f4b41a" stroke-width="1" stroke-linejoin="round"/>
<polygon points="76.7,374.8 95.5,370.9 107.3,376.9 87.6,381.0" fill="#6a5d54"/>
<polygon points="80.6,375.4 95.3,372.3 103.1,376.3 87.8,379.6" fill="#f6f6f4" stroke="#f6f6f4" stroke-width="1" stroke-linejoin="round"/>
<polygon points="11.7,373.3 30.0,369.5 62.0,381.5 43.7,384.0" fill="#2e1c10" stroke="#2e1c10" stroke-width="1.0" stroke-linejoin="round"/>
<polygon points="13.0,373.4 30.0,369.9 39.4,373.4 22.4,376.5" fill="#916815"/>
<polygon points="18.2,373.7 29.9,371.3 34.3,372.9 22.5,375.1" fill="#f4b41a" stroke="#f4b41a" stroke-width="1" stroke-linejoin="round"/>
<polygon points="23.8,377.0 40.6,373.9 50.0,377.4 33.1,380.1" fill="#916815"/>
<polygon points="28.9,377.3 40.5,375.2 45.0,376.9 33.2,378.8" fill="#f4b41a" stroke="#f4b41a" stroke-width="1" stroke-linejoin="round"/>
<polygon points="34.5,380.6 51.3,377.9 60.6,381.3 43.7,383.6" fill="#916815"/>
<polygon points="39.6,381.0 51.2,379.1 55.7,380.8 43.8,382.4" fill="#f4b41a" stroke="#f4b41a" stroke-width="1" stroke-linejoin="round"/>
<polygon points="11.0,374.0 43.7,385.0 50.5,456.5 20.5,434.5" fill="#2e1c10" stroke="#2e1c10" stroke-width="1.0" stroke-linejoin="round"/>
<polygon points="11.4,374.5 21.6,377.9 24.3,398.5 14.5,393.9" fill="#1e4b34"/>
<polygon points="13.2,376.6 20.3,379.0 22.6,396.1 15.8,393.0" fill="#0e7a58" stroke="#0e7a58" stroke-width="1" stroke-linejoin="round"/>
<polygon points="22.3,378.2 32.5,381.6 34.9,403.4 25.1,398.8" fill="#8f4017"/>
<polygon points="24.0,380.2 31.2,382.6 33.3,401.1 26.4,397.9" fill="#f0641e" stroke="#f0641e" stroke-width="1" stroke-linejoin="round"/>
<polygon points="33.2,381.8 43.4,385.3 45.6,408.3 35.7,403.7" fill="#8f4017"/>
<polygon points="34.8,383.9 42.1,386.3 43.9,406.0 37.0,402.8" fill="#f0641e" stroke="#f0641e" stroke-width="1" stroke-linejoin="round"/>
<polygon points="14.6,394.8 24.4,399.3 27.2,419.8 17.7,414.1" fill="#881f1d"/>
<polygon points="16.4,397.1 23.2,400.2 25.4,417.1 18.9,413.2" fill="#e3222b" stroke="#e3222b" stroke-width="1" stroke-linejoin="round"/>
<polygon points="25.2,399.6 35.0,404.2 37.5,425.9 28.0,420.2" fill="#8f4017"/>
<polygon points="26.9,402.0 33.7,405.1 35.8,423.3 29.3,419.4" fill="#f0641e" stroke="#f0641e" stroke-width="1" stroke-linejoin="round"/>
<polygon points="35.8,404.5 45.6,409.1 47.8,432.0 38.3,426.3" fill="#8f4017"/>
<polygon points="37.5,406.8 44.3,410.0 46.2,429.4 39.6,425.5" fill="#f0641e" stroke="#f0641e" stroke-width="1" stroke-linejoin="round"/>
<polygon points="17.8,415.0 27.3,420.7 30.0,441.1 20.8,434.3" fill="#881f1d"/>
<polygon points="19.6,417.7 26.0,421.5 28.2,438.0 22.1,433.5" fill="#e3222b" stroke="#e3222b" stroke-width="1" stroke-linejoin="round"/>
<polygon points="28.1,421.1 37.6,426.8 40.1,448.4 30.8,441.6" fill="#1e4b34"/>
<polygon points="29.8,423.8 36.3,427.6 38.3,445.4 32.1,440.9" fill="#0e7a58" stroke="#0e7a58" stroke-width="1" stroke-linejoin="round"/>
<polygon points="38.4,427.2 47.9,432.9 50.1,455.8 40.8,449.0" fill="#1e4b34"/>
<polygon points="40.1,429.9 46.6,433.7 48.4,452.8 42.2,448.2" fill="#0e7a58" stroke="#0e7a58" stroke-width="1" stroke-linejoin="round"/>
<polygon points="43.7,385.0 65.5,382.5 69.0,451.5 50.5,456.5" fill="#2e1c10" stroke="#2e1c10" stroke-width="1.0" stroke-linejoin="round"/>
<polygon points="44.1,385.3 65.2,382.9 66.3,405.2 46.3,408.4" fill="#242d5b"/>
<polygon points="45.6,386.5 63.8,384.5 64.8,404.0 47.5,406.8" fill="#1a3ea6" stroke="#1a3ea6" stroke-width="1" stroke-linejoin="round"/>
<polygon points="46.3,409.1 66.3,405.9 67.5,428.2 48.5,432.2" fill="#242d5b"/>
<polygon points="47.9,410.3 65.0,407.5 66.0,427.1 49.8,430.5" fill="#1a3ea6" stroke="#1a3ea6" stroke-width="1" stroke-linejoin="round"/>
<polygon points="48.6,432.9 67.5,428.9 68.6,451.2 50.8,456.1" fill="#8f4017"/>
<polygon points="50.1,434.1 66.2,430.6 67.2,450.2 52.0,454.3" fill="#f0641e" stroke="#f0641e" stroke-width="1" stroke-linejoin="round"/>
<polygon points="66.7,386.3 108.3,377.0 106.7,440.6 69.5,451.5" fill="#2e1c10" stroke="#2e1c10" stroke-width="1.0" stroke-linejoin="round"/>
<polygon points="67.1,386.6 87.2,382.1 87.3,402.8 68.0,407.6" fill="#242d5b"/>
<polygon points="68.5,387.7 85.8,383.8 85.9,401.7 69.3,405.8" fill="#1a3ea6" stroke="#1a3ea6" stroke-width="1" stroke-linejoin="round"/>
<polygon points="87.9,381.9 107.9,377.4 107.4,397.9 88.0,402.7" fill="#1e4b34"/>
<polygon points="89.3,383.0 106.5,379.2 106.1,396.8 89.4,400.9" fill="#0e7a58" stroke="#0e7a58" stroke-width="1" stroke-linejoin="round"/>
<polygon points="68.0,408.3 87.4,403.6 87.5,424.3 68.9,429.3" fill="#242d5b"/>
<polygon points="69.4,409.4 86.0,405.3 86.1,423.2 70.2,427.5" fill="#1a3ea6" stroke="#1a3ea6" stroke-width="1" stroke-linejoin="round"/>
<polygon points="88.1,403.4 107.4,398.6 106.9,419.1 88.2,424.1" fill="#1e4b34"/>
<polygon points="89.5,404.5 106.0,400.4 105.5,418.0 89.6,422.3" fill="#0e7a58" stroke="#0e7a58" stroke-width="1" stroke-linejoin="round"/>
<polygon points="68.9,430.0 87.6,425.0 87.7,445.8 69.8,451.0" fill="#8f4017"/>
<polygon points="70.4,431.1 86.2,426.9 86.3,444.7 71.2,449.2" fill="#f0641e" stroke="#f0641e" stroke-width="1" stroke-linejoin="round"/>
<polygon points="88.3,424.9 106.9,419.9 106.4,440.3 88.4,445.6" fill="#8f4017"/>
<polygon points="89.7,425.9 105.4,421.7 105.0,439.3 89.8,443.7" fill="#f0641e" stroke="#f0641e" stroke-width="1" stroke-linejoin="round"/>
<text x="24.8" y="463" fill="#858585" text-anchor="start" style="font-family:'Liberation Serif', serif;font-size:14px;font-style:italic;font-weight:bold;">L</text>
<path d="M148.1,360.1 A23.3,26 0 0 1 184.5,357.6" fill="none" stroke="#262626" stroke-width="1.7" stroke-linecap="round"/>
<path d="M143.9,374.1 A23.3,26 0 0 0 164.8,400.9" fill="none" stroke="#262626" stroke-width="1.7" stroke-linecap="round"/>
<path d="M148.1,360.1 A23.3,26 0 0 1 151.3,356.0" fill="none" stroke="#262626" stroke-width="2.6" stroke-linecap="round"/>
<path d="M143.9,374.1 A23.3,26 0 0 0 144.3,379.5" fill="none" stroke="#262626" stroke-width="2.6" stroke-linecap="round"/>
<line x1="152.5" y1="364" x2="167" y2="374" stroke="#777" stroke-width="0.8" stroke-dasharray="1,1"/>
<polygon points="180.0,358.0 216.0,360.0 232.0,365.5 190.0,378.0" fill="#2e1c10"/>
<polygon points="186.5,364.5 195.5,363.5 197.0,370.0 188.0,372.5" fill="#8a8078"/>
<polygon points="203.0,362.0 212.5,362.0 217.0,365.5 207.0,367.0" fill="#e8e6e0"/>
<polygon points="175.7,357.7 185.9,361.0 171.5,431.0 157.5,418.0" fill="#2e1c10" stroke="#2e1c10" stroke-width="1.0" stroke-linejoin="round"/>
<polygon points="175.9,358.1 185.5,361.2 180.9,383.8 170.0,377.6" fill="#8f4017"/>
<polygon points="176.9,359.9 183.9,362.2 179.9,381.6 171.7,377.0" fill="#f0641e" stroke="#f0641e" stroke-width="1" stroke-linejoin="round"/>
<polygon points="169.8,378.3 180.7,384.5 176.1,407.0 164.0,397.8" fill="#8f4017"/>
<polygon points="170.7,380.4 179.1,385.2 175.1,404.6 165.6,397.2" fill="#f0641e" stroke="#f0641e" stroke-width="1" stroke-linejoin="round"/>
<polygon points="163.8,398.5 175.9,407.8 171.3,430.3 157.9,417.9" fill="#242d5b"/>
<polygon points="164.5,400.8 174.4,408.4 170.4,427.6 159.5,417.5" fill="#1a3ea6" stroke="#1a3ea6" stroke-width="1" stroke-linejoin="round"/>
<polygon points="176.5,377.5 242.5,364.5 261.8,378.3 198.8,393.0" fill="#2e1c10" stroke="#2e1c10" stroke-width="1.0" stroke-linejoin="round"/>
<polygon points="177.4,377.7 198.4,373.5 208.3,380.5 187.7,384.9" fill="#916815"/>
<polygon points="180.9,378.4 198.1,375.0 204.9,379.8 188.0,383.4" fill="#f4b41a" stroke="#f4b41a" stroke-width="1" stroke-linejoin="round"/>
<polygon points="199.4,373.4 220.4,369.2 229.8,375.8 209.2,380.3" fill="#916815"/>
<polygon points="202.9,374.1 220.1,370.7 226.4,375.1 209.5,378.8" fill="#f4b41a" stroke="#f4b41a" stroke-width="1" stroke-linejoin="round"/>
<polygon points="221.4,369.0 242.4,364.9 251.3,371.2 230.7,375.6" fill="#6a5d54"/>
<polygon points="224.8,369.8 242.1,366.4 247.9,370.5 231.0,374.1" fill="#f6f6f4" stroke="#f6f6f4" stroke-width="1" stroke-linejoin="round"/>
<polygon points="188.5,385.4 209.1,381.0 219.0,387.9 198.9,392.6" fill="#916815"/>
<polygon points="192.0,386.1 208.8,382.5 215.6,387.3 199.2,391.1" fill="#f4b41a" stroke="#f4b41a" stroke-width="1" stroke-linejoin="round"/>
<polygon points="210.0,380.8 230.6,376.4 240.0,383.0 219.9,387.7" fill="#916815"/>
<polygon points="213.4,381.5 230.3,377.9 236.6,382.4 220.2,386.2" fill="#f4b41a" stroke="#f4b41a" stroke-width="1" stroke-linejoin="round"/>
<polygon points="231.5,376.2 252.1,371.8 261.0,378.1 240.9,382.8" fill="#6a5d54"/>
<polygon points="234.9,376.9 251.8,373.3 257.6,377.5 241.2,381.3" fill="#f6f6f4" stroke="#f6f6f4" stroke-width="1" stroke-linejoin="round"/>
<polygon points="176.5,377.5 198.8,393.0 200.5,459.5 178.5,439.5" fill="#2e1c10" stroke="#2e1c10" stroke-width="1.0" stroke-linejoin="round"/>
<polygon points="176.9,378.2 187.3,385.4 187.9,405.9 177.5,398.0" fill="#8f4017"/>
<polygon points="178.4,380.9 185.9,386.2 186.4,403.0 178.9,397.3" fill="#f0641e" stroke="#f0641e" stroke-width="1" stroke-linejoin="round"/>
<polygon points="188.0,385.9 198.5,393.2 199.0,414.4 188.6,406.5" fill="#8f4017"/>
<polygon points="189.5,388.7 197.1,393.9 197.5,411.6 190.0,405.8" fill="#f0641e" stroke="#f0641e" stroke-width="1" stroke-linejoin="round"/>
<polygon points="177.5,398.9 187.9,406.8 188.5,427.3 178.2,418.7" fill="#8f4017"/>
<polygon points="179.0,401.8 186.5,407.5 187.0,424.2 179.6,418.0" fill="#f0641e" stroke="#f0641e" stroke-width="1" stroke-linejoin="round"/>
<polygon points="188.6,407.4 199.0,415.3 199.6,436.6 189.2,427.9" fill="#8f4017"/>
<polygon points="190.1,410.3 197.6,416.0 198.1,433.5 190.6,427.2" fill="#f0641e" stroke="#f0641e" stroke-width="1" stroke-linejoin="round"/>
<polygon points="178.2,419.6 188.5,428.3 189.1,448.7 178.8,439.3" fill="#1e4b34"/>
<polygon points="179.7,422.7 187.2,428.9 187.6,445.4 180.2,438.7" fill="#0e7a58" stroke="#0e7a58" stroke-width="1" stroke-linejoin="round"/>
<polygon points="189.3,428.9 199.6,437.5 200.1,458.7 189.8,449.3" fill="#1e4b34"/>
<polygon points="190.7,431.9 198.2,438.2 198.6,455.4 191.2,448.7" fill="#0e7a58" stroke="#0e7a58" stroke-width="1" stroke-linejoin="round"/>
<polygon points="198.8,393.0 261.8,378.3 259.8,441.0 200.5,459.5" fill="#2e1c10" stroke="#2e1c10" stroke-width="1.0" stroke-linejoin="round"/>
<polygon points="199.2,393.3 219.5,388.5 219.6,409.6 199.7,414.7" fill="#242d5b"/>
<polygon points="200.6,394.4 218.1,390.3 218.2,408.5 201.1,412.9" fill="#1a3ea6" stroke="#1a3ea6" stroke-width="1" stroke-linejoin="round"/>
<polygon points="220.2,388.4 240.4,383.6 240.2,404.3 220.3,409.4" fill="#242d5b"/>
<polygon points="221.6,389.5 239.0,385.4 238.8,403.2 221.7,407.6" fill="#1a3ea6" stroke="#1a3ea6" stroke-width="1" stroke-linejoin="round"/>
<polygon points="241.1,383.5 261.4,378.7 260.8,398.9 240.9,404.1" fill="#1e4b34"/>
<polygon points="242.5,384.6 260.0,380.5 259.4,397.8 242.3,402.3" fill="#0e7a58" stroke="#0e7a58" stroke-width="1" stroke-linejoin="round"/>
<polygon points="199.7,415.4 219.6,410.3 219.8,431.3 200.3,436.9" fill="#242d5b"/>
<polygon points="201.2,416.5 218.2,412.1 218.4,430.3 201.6,435.0" fill="#1a3ea6" stroke="#1a3ea6" stroke-width="1" stroke-linejoin="round"/>
<polygon points="220.3,410.1 240.2,405.0 239.9,425.6 220.5,431.1" fill="#242d5b"/>
<polygon points="221.7,411.2 238.8,406.8 238.6,424.5 221.8,429.3" fill="#1a3ea6" stroke="#1a3ea6" stroke-width="1" stroke-linejoin="round"/>
<polygon points="240.9,404.8 260.8,399.7 260.1,419.8 240.6,425.4" fill="#1e4b34"/>
<polygon points="242.3,405.9 259.3,401.5 258.8,418.8 242.1,423.5" fill="#0e7a58" stroke="#0e7a58" stroke-width="1" stroke-linejoin="round"/>
<polygon points="200.3,437.6 219.8,432.1 219.9,453.1 200.8,459.0" fill="#8f4017"/>
<polygon points="201.7,438.6 218.4,433.9 218.5,452.0 202.2,457.1" fill="#f0641e" stroke="#f0641e" stroke-width="1" stroke-linejoin="round"/>
<polygon points="220.5,431.9 239.9,426.3 239.7,446.9 220.6,452.9" fill="#8f4017"/>
<polygon points="221.9,432.9 238.5,428.2 238.3,445.9 222.0,451.0" fill="#f0641e" stroke="#f0641e" stroke-width="1" stroke-linejoin="round"/>
<polygon points="240.6,426.1 260.1,420.6 259.5,440.7 240.4,446.7" fill="#8f4017"/>
<polygon points="242.0,427.2 258.6,422.4 258.1,439.7 241.8,444.8" fill="#f0641e" stroke="#f0641e" stroke-width="1" stroke-linejoin="round"/>
<text x="159" y="463" fill="#858585" text-anchor="start" style="font-family:'Liberation Serif', serif;font-size:14px;font-style:italic;font-weight:bold;">B<tspan dy="-4.5" dx="0.5" style="font-size:8px">2</tspan></text>
<path d="M342,453 C334,458 332,468 338,473 C340,475 343,476.5 345,477" fill="none" stroke="#2a3a40" stroke-width="1.8" stroke-linecap="round"/>
<path d="M386,451.5 C394,455 398,462 395,469 C391,477 378,480 362,479.5" fill="none" stroke="#2a3a40" stroke-width="2.0" stroke-linecap="round"/>
<polygon points="366.0,475.5 354.0,479.5 366.0,484.0" fill="#3f9bb8"/>
<line x1="365" y1="458" x2="365" y2="486" stroke="#777" stroke-width="0.8" stroke-dasharray="1,1"/>
<polygon points="316.8,414.0 351.5,435.0 412.0,419.5 412.0,425.0 360.8,441.0 316.7,421.0" fill="#2e1c10"/>
<polygon points="316.7,417.0 360.8,437.0 360.8,459.5 318.3,436.0" fill="#2e1c10" stroke="#2e1c10" stroke-width="1.0" stroke-linejoin="round"/>
<polygon points="317.1,417.6 331.1,423.9 332.1,443.2 318.6,435.8" fill="#8f4017"/>
<polygon points="318.7,419.8 329.7,424.8 330.6,440.8 320.0,434.9" fill="#f0641e" stroke="#f0641e" stroke-width="1" stroke-linejoin="round"/>
<polygon points="331.8,424.2 345.8,430.6 346.3,451.1 332.8,443.6" fill="#8f4017"/>
<polygon points="333.3,426.4 344.4,431.5 344.8,448.7 334.2,442.8" fill="#f0641e" stroke="#f0641e" stroke-width="1" stroke-linejoin="round"/>
<polygon points="346.5,430.9 360.4,437.2 360.4,458.9 347.0,451.5" fill="#8f4017"/>
<polygon points="347.9,433.1 359.1,438.1 359.1,456.5 348.4,450.6" fill="#f0641e" stroke="#f0641e" stroke-width="1" stroke-linejoin="round"/>
<polygon points="360.8,437.0 412.0,421.0 412.0,434.5 360.8,459.5" fill="#2e1c10" stroke="#2e1c10" stroke-width="1.0" stroke-linejoin="round"/>
<polygon points="361.2,437.3 377.5,432.1 377.5,450.9 361.2,458.9" fill="#242d5b"/>
<polygon points="362.6,438.3 376.1,434.0 376.1,450.1 362.6,456.7" fill="#1a3ea6" stroke="#1a3ea6" stroke-width="1" stroke-linejoin="round"/>
<polygon points="378.2,431.9 394.6,426.8 394.6,442.6 378.2,450.6" fill="#242d5b"/>
<polygon points="379.6,433.0 393.2,428.7 393.2,441.7 379.6,448.4" fill="#1a3ea6" stroke="#1a3ea6" stroke-width="1" stroke-linejoin="round"/>
<polygon points="395.3,426.6 411.6,421.5 411.6,434.3 395.3,442.3" fill="#1e4b34"/>
<polygon points="396.7,427.6 410.2,423.4 410.2,433.4 396.7,440.0" fill="#0e7a58" stroke="#0e7a58" stroke-width="1" stroke-linejoin="round"/>
<polygon points="316.0,370.5 372.5,356.0 412.5,377.5 350.0,396.0" fill="#2e1c10" stroke="#2e1c10" stroke-width="1.0" stroke-linejoin="round"/>
<polygon points="316.8,370.7 334.8,366.0 346.0,373.6 327.4,378.6" fill="#916815"/>
<polygon points="320.0,371.3 334.5,367.6 342.7,373.0 327.7,377.1" fill="#f4b41a" stroke="#f4b41a" stroke-width="1" stroke-linejoin="round"/>
<polygon points="335.7,365.8 353.6,361.2 365.4,368.3 346.9,373.3" fill="#916815"/>
<polygon points="339.1,366.4 353.4,362.7 361.9,367.8 347.1,371.8" fill="#f4b41a" stroke="#f4b41a" stroke-width="1" stroke-linejoin="round"/>
<polygon points="354.6,361.0 372.5,356.4 384.9,363.1 366.4,368.1" fill="#6a5d54"/>
<polygon points="358.2,361.5 372.3,357.9 381.1,362.6 366.6,366.6" fill="#f6f6f4" stroke="#f6f6f4" stroke-width="1" stroke-linejoin="round"/>
<polygon points="328.1,379.2 346.8,374.1 358.0,381.6 338.7,387.1" fill="#916815"/>
<polygon points="331.3,379.8 346.5,375.6 354.7,381.1 339.0,385.6" fill="#f4b41a" stroke="#f4b41a" stroke-width="1" stroke-linejoin="round"/>
<polygon points="347.7,373.9 366.3,368.8 378.1,375.9 358.9,381.4" fill="#916815"/>
<polygon points="351.0,374.4 366.1,370.3 374.6,375.5 359.1,379.9" fill="#f4b41a" stroke="#f4b41a" stroke-width="1" stroke-linejoin="round"/>
<polygon points="367.2,368.6 385.8,363.5 398.2,370.2 379.1,375.7" fill="#6a5d54"/>
<polygon points="370.8,369.1 385.6,365.0 394.5,369.8 379.3,374.2" fill="#f6f6f4" stroke="#f6f6f4" stroke-width="1" stroke-linejoin="round"/>
<polygon points="339.4,387.6 358.8,382.2 370.0,389.7 350.1,395.6" fill="#916815"/>
<polygon points="342.5,388.2 358.5,383.7 366.8,389.2 350.3,394.1" fill="#f4b41a" stroke="#f4b41a" stroke-width="1" stroke-linejoin="round"/>
<polygon points="359.7,381.9 378.9,376.4 390.8,383.6 370.9,389.5" fill="#916815"/>
<polygon points="362.9,382.4 378.7,377.9 387.4,383.1 371.1,387.9" fill="#f4b41a" stroke="#f4b41a" stroke-width="1" stroke-linejoin="round"/>
<polygon points="379.9,376.2 399.1,370.7 411.6,377.4 391.7,383.3" fill="#6a5d54"/>
<polygon points="383.4,376.6 399.0,372.2 407.9,377.0 391.9,381.8" fill="#f6f6f4" stroke="#f6f6f4" stroke-width="1" stroke-linejoin="round"/>
<polygon points="316.0,370.5 350.0,396.0 351.5,436.0 316.8,415.5" fill="#2e1c10" stroke="#2e1c10" stroke-width="1.0" stroke-linejoin="round"/>
<polygon points="316.4,371.2 327.0,379.2 327.5,400.0 316.7,392.8" fill="#8f4017"/>
<polygon points="317.8,374.0 325.6,379.9 326.0,397.3 318.1,392.1" fill="#f0641e" stroke="#f0641e" stroke-width="1" stroke-linejoin="round"/>
<polygon points="327.7,379.7 338.3,387.7 338.9,407.7 328.2,400.5" fill="#8f4017"/>
<polygon points="329.2,382.6 336.9,388.4 337.4,405.0 329.6,399.7" fill="#f0641e" stroke="#f0641e" stroke-width="1" stroke-linejoin="round"/>
<polygon points="339.0,388.2 349.7,396.2 350.4,415.3 339.6,408.1" fill="#8f4017"/>
<polygon points="340.5,391.1 348.3,396.9 348.9,412.6 341.0,407.4" fill="#f0641e" stroke="#f0641e" stroke-width="1" stroke-linejoin="round"/>
<polygon points="316.8,393.7 327.5,400.9 328.0,421.7 317.1,415.3" fill="#8f4017"/>
<polygon points="318.2,396.3 326.1,401.6 326.5,419.2 318.5,414.5" fill="#f0641e" stroke="#f0641e" stroke-width="1" stroke-linejoin="round"/>
<polygon points="328.2,401.3 339.0,408.5 339.6,428.5 328.7,422.1" fill="#8f4017"/>
<polygon points="329.7,404.0 337.6,409.3 338.1,426.0 330.1,421.3" fill="#f0641e" stroke="#f0641e" stroke-width="1" stroke-linejoin="round"/>
<polygon points="339.7,409.0 350.4,416.2 351.1,435.4 340.3,429.0" fill="#8f4017"/>
<polygon points="341.2,411.7 349.0,417.0 349.6,432.9 341.7,428.2" fill="#f0641e" stroke="#f0641e" stroke-width="1" stroke-linejoin="round"/>
<polygon points="350.0,396.0 412.5,377.5 412.0,420.5 351.5,436.0" fill="#2e1c10" stroke="#2e1c10" stroke-width="1.0" stroke-linejoin="round"/>
<polygon points="350.4,396.3 370.5,390.3 370.9,410.1 351.1,415.5" fill="#242d5b"/>
<polygon points="351.8,397.3 369.1,392.2 369.5,409.0 352.4,413.7" fill="#1a3ea6" stroke="#1a3ea6" stroke-width="1" stroke-linejoin="round"/>
<polygon points="371.2,390.1 391.3,384.1 391.4,404.4 371.6,409.9" fill="#242d5b"/>
<polygon points="372.6,391.1 389.9,386.0 390.0,403.3 373.0,408.0" fill="#1a3ea6" stroke="#1a3ea6" stroke-width="1" stroke-linejoin="round"/>
<polygon points="392.0,383.9 412.1,378.0 411.9,398.7 392.1,404.2" fill="#1e4b34"/>
<polygon points="393.4,385.0 410.7,379.9 410.5,397.7 393.5,402.4" fill="#0e7a58" stroke="#0e7a58" stroke-width="1" stroke-linejoin="round"/>
<polygon points="351.1,416.3 370.9,410.8 371.3,430.6 351.8,435.6" fill="#242d5b"/>
<polygon points="352.6,417.3 369.5,412.6 369.9,429.5 353.2,433.8" fill="#1a3ea6" stroke="#1a3ea6" stroke-width="1" stroke-linejoin="round"/>
<polygon points="371.6,410.6 391.4,405.1 391.5,425.4 372.0,430.4" fill="#242d5b"/>
<polygon points="373.0,411.7 390.0,407.0 390.1,424.3 373.4,428.6" fill="#1a3ea6" stroke="#1a3ea6" stroke-width="1" stroke-linejoin="round"/>
<polygon points="392.1,404.9 411.9,399.5 411.7,420.2 392.2,425.2" fill="#1e4b34"/>
<polygon points="393.5,406.0 410.5,401.3 410.3,419.1 393.6,423.4" fill="#0e7a58" stroke="#0e7a58" stroke-width="1" stroke-linejoin="round"/>
<text x="310.5" y="463" fill="#858585" text-anchor="start" style="font-family:'Liberation Serif', serif;font-size:14px;font-style:italic;font-weight:bold;">D<tspan dy="-4.5" dx="0.5" style="font-size:8px">'</tspan></text>
<path d="M581,370 C577,358 566,357 560,366 C556,373 555,383 556,392" fill="none" stroke="#23343a" stroke-width="1.4" stroke-linecap="round"/>
<path d="M565,411 C570,419 580,420 587,416" fill="none" stroke="#23343a" stroke-width="1.4" stroke-linecap="round"/>
<path d="M585,387 C588,398 588,408 586,415" fill="none" stroke="#23343a" stroke-width="1.4" stroke-linecap="round"/>
<polygon points="510.0,361.0 514.1,354.2 531.9,350.7 569.3,392.4 546.2,399.5 543.0,402.0 543.0,385.5" fill="#2e1c10" stroke="#2e1c10" stroke-width="1" stroke-linejoin="round"/>
<polygon points="516.2,356.7 530.9,353.2 539.7,363.0 524.4,366.7" fill="#f4b41a" stroke="#f4b41a" stroke-width="1.3" stroke-linejoin="round"/>
<polygon points="529.3,370.6 540.5,366.3 552.4,375.7 538.7,380.2" fill="#f4b41a" stroke="#f4b41a" stroke-width="1.3" stroke-linejoin="round"/>
<polygon points="543.8,384.3 553.8,380.6 567.1,392.9 549.3,397.1" fill="#f4b41a" stroke="#f4b41a" stroke-width="1.3" stroke-linejoin="round"/>
<polygon points="544.6,398.3 568.9,393.7 558.5,442.5 543.2,446.3" fill="#2e1c10" stroke="#2e1c10" stroke-width="1.0" stroke-linejoin="round"/>
<polygon points="544.9,398.6 568.4,394.1 565.1,409.7 544.5,413.9" fill="#242d5b"/>
<polygon points="546.3,399.8 566.6,395.9 564.0,408.5 545.9,412.1" fill="#1a3ea6" stroke="#1a3ea6" stroke-width="1" stroke-linejoin="round"/>
<polygon points="544.5,414.6 565.0,410.4 561.7,425.9 544.0,429.9" fill="#242d5b"/>
<polygon points="545.8,415.7 563.2,412.2 560.5,424.8 545.5,428.1" fill="#1a3ea6" stroke="#1a3ea6" stroke-width="1" stroke-linejoin="round"/>
<polygon points="544.0,430.6 561.5,426.7 558.2,442.2 543.6,445.8" fill="#242d5b"/>
<polygon points="545.4,431.7 559.7,428.5 557.0,441.1 545.0,444.0" fill="#1a3ea6" stroke="#1a3ea6" stroke-width="1" stroke-linejoin="round"/>
<polygon points="467.4,372.0 511.0,360.5 544.0,384.5 499.3,390.3" fill="#2e1c10" stroke="#2e1c10" stroke-width="1.0" stroke-linejoin="round"/>
<polygon points="468.3,372.1 489.1,366.6 499.1,373.1 478.1,377.7" fill="#916815"/>
<polygon points="472.0,372.6 488.9,368.1 495.6,372.5 478.3,376.2" fill="#f4b41a" stroke="#f4b41a" stroke-width="1" stroke-linejoin="round"/>
<polygon points="490.1,366.4 510.9,360.9 521.2,368.3 500.1,372.9" fill="#916815"/>
<polygon points="493.5,366.9 510.6,362.4 517.8,367.6 500.4,371.4" fill="#f4b41a" stroke="#f4b41a" stroke-width="1" stroke-linejoin="round"/>
<polygon points="479.0,378.2 499.9,373.7 509.9,380.2 488.7,383.8" fill="#916815"/>
<polygon points="482.8,378.8 499.7,375.2 506.2,379.4 489.0,382.4" fill="#f4b41a" stroke="#f4b41a" stroke-width="1" stroke-linejoin="round"/>
<polygon points="500.9,373.5 521.9,368.9 532.1,376.3 510.9,380.0" fill="#916815"/>
<polygon points="504.5,374.1 521.6,370.4 528.6,375.5 511.2,378.5" fill="#f4b41a" stroke="#f4b41a" stroke-width="1" stroke-linejoin="round"/>
<polygon points="489.7,384.4 510.8,380.7 520.7,387.2 499.4,389.9" fill="#916815"/>
<polygon points="493.7,385.1 510.5,382.2 516.7,386.3 499.7,388.5" fill="#f4b41a" stroke="#f4b41a" stroke-width="1" stroke-linejoin="round"/>
<polygon points="511.8,380.5 532.9,376.9 543.1,384.3 521.7,387.0" fill="#916815"/>
<polygon points="515.5,381.3 532.6,378.4 539.4,383.3 522.1,385.6" fill="#f4b41a" stroke="#f4b41a" stroke-width="1" stroke-linejoin="round"/>
<polygon points="467.4,372.0 499.3,390.3 503.8,460.4 471.0,432.0" fill="#2e1c10" stroke="#2e1c10" stroke-width="1.0" stroke-linejoin="round"/>
<polygon points="467.8,372.6 477.7,378.3 478.9,398.5 468.9,391.8" fill="#8f4017"/>
<polygon points="469.3,375.1 476.3,379.1 477.4,395.8 470.3,391.0" fill="#f0641e" stroke="#f0641e" stroke-width="1" stroke-linejoin="round"/>
<polygon points="478.4,378.7 488.3,384.4 489.7,405.8 479.7,399.0" fill="#8f4017"/>
<polygon points="480.0,381.2 487.0,385.2 488.1,403.0 481.0,398.3" fill="#f0641e" stroke="#f0641e" stroke-width="1" stroke-linejoin="round"/>
<polygon points="489.1,384.8 499.0,390.5 500.4,413.0 490.4,406.3" fill="#8f4017"/>
<polygon points="490.6,387.3 497.6,391.4 498.8,410.2 491.8,405.5" fill="#f0641e" stroke="#f0641e" stroke-width="1" stroke-linejoin="round"/>
<polygon points="469.0,392.7 479.0,399.4 480.2,419.6 470.1,411.8" fill="#8f4017"/>
<polygon points="470.6,395.4 477.6,400.2 478.7,416.6 471.5,411.1" fill="#f0641e" stroke="#f0641e" stroke-width="1" stroke-linejoin="round"/>
<polygon points="479.7,399.9 489.7,406.6 491.1,427.9 481.0,420.2" fill="#8f4017"/>
<polygon points="481.3,402.7 488.4,407.4 489.5,424.9 482.3,419.4" fill="#f0641e" stroke="#f0641e" stroke-width="1" stroke-linejoin="round"/>
<polygon points="490.5,407.1 500.5,413.9 501.9,436.3 491.8,428.5" fill="#8f4017"/>
<polygon points="492.0,409.9 499.1,414.6 500.3,433.3 493.2,427.8" fill="#f0641e" stroke="#f0641e" stroke-width="1" stroke-linejoin="round"/>
<polygon points="470.2,412.7 480.3,420.5 481.5,440.7 471.3,431.8" fill="#8f4017"/>
<polygon points="471.8,415.7 478.9,421.2 479.9,437.4 472.7,431.2" fill="#f0641e" stroke="#f0641e" stroke-width="1" stroke-linejoin="round"/>
<polygon points="481.0,421.1 491.1,428.9 492.5,450.1 482.3,441.3" fill="#8f4017"/>
<polygon points="482.6,424.1 489.8,429.6 490.9,446.9 483.6,440.6" fill="#f0641e" stroke="#f0641e" stroke-width="1" stroke-linejoin="round"/>
<polygon points="491.9,429.4 502.0,437.2 503.4,459.6 493.2,450.8" fill="#8f4017"/>
<polygon points="493.5,432.4 500.6,437.9 501.8,456.3 494.6,450.1" fill="#f0641e" stroke="#f0641e" stroke-width="1" stroke-linejoin="round"/>
<polygon points="499.3,390.3 544.0,385.0 543.0,446.0 503.8,460.4" fill="#2e1c10" stroke="#2e1c10" stroke-width="1.0" stroke-linejoin="round"/>
<polygon points="499.7,390.6 521.3,388.0 521.9,409.2 501.1,413.2" fill="#242d5b"/>
<polygon points="501.2,391.8 520.0,389.6 520.4,408.1 502.4,411.6" fill="#1a3ea6" stroke="#1a3ea6" stroke-width="1" stroke-linejoin="round"/>
<polygon points="522.0,388.0 543.6,385.4 543.3,405.0 522.6,409.1" fill="#242d5b"/>
<polygon points="523.4,389.2 542.2,387.0 541.9,403.9 523.9,407.4" fill="#1a3ea6" stroke="#1a3ea6" stroke-width="1" stroke-linejoin="round"/>
<polygon points="501.2,414.0 521.9,409.9 522.5,431.1 502.6,436.6" fill="#242d5b"/>
<polygon points="502.6,415.1 520.5,411.6 521.0,430.0 503.9,434.8" fill="#1a3ea6" stroke="#1a3ea6" stroke-width="1" stroke-linejoin="round"/>
<polygon points="522.6,409.8 543.3,405.8 543.0,425.4 523.2,430.9" fill="#242d5b"/>
<polygon points="524.0,410.9 541.9,407.5 541.6,424.3 524.5,429.1" fill="#1a3ea6" stroke="#1a3ea6" stroke-width="1" stroke-linejoin="round"/>
<polygon points="502.7,437.3 522.5,431.8 523.0,453.0 504.1,459.9" fill="#242d5b"/>
<polygon points="504.1,438.3 521.1,433.6 521.6,452.0 505.4,457.9" fill="#1a3ea6" stroke="#1a3ea6" stroke-width="1" stroke-linejoin="round"/>
<polygon points="523.2,431.6 543.0,426.1 542.7,445.8 523.7,452.7" fill="#242d5b"/>
<polygon points="524.6,432.7 541.5,428.0 541.3,444.8 525.1,450.7" fill="#1a3ea6" stroke="#1a3ea6" stroke-width="1" stroke-linejoin="round"/>
<text x="461" y="463" fill="#858585" text-anchor="start" style="font-family:'Liberation Serif', serif;font-size:14px;font-style:italic;font-weight:bold;">R<tspan dy="-4.5" dx="0.5" style="font-size:8px">2</tspan></text>
<polygon points="617.5,370.5 675.0,357.0 714.5,377.0 652.0,393.0" fill="#2e1c10" stroke="#2e1c10" stroke-width="1.0" stroke-linejoin="round"/>
<polygon points="618.4,370.7 636.6,366.4 647.8,373.1 629.1,377.6" fill="#916815"/>
<polygon points="621.9,371.3 636.4,367.9 644.2,372.5 629.3,376.1" fill="#f4b41a" stroke="#f4b41a" stroke-width="1" stroke-linejoin="round"/>
<polygon points="637.6,366.1 655.8,361.9 667.5,368.3 648.8,372.8" fill="#916815"/>
<polygon points="641.3,366.7 655.6,363.4 663.7,367.8 649.0,371.4" fill="#f4b41a" stroke="#f4b41a" stroke-width="1" stroke-linejoin="round"/>
<polygon points="656.8,361.6 675.0,357.4 687.2,363.6 668.5,368.1" fill="#916815"/>
<polygon points="660.7,362.2 674.8,358.8 683.1,363.1 668.7,366.6" fill="#f4b41a" stroke="#f4b41a" stroke-width="1" stroke-linejoin="round"/>
<polygon points="629.9,378.1 648.7,373.6 659.9,380.3 640.6,385.1" fill="#916815"/>
<polygon points="633.3,378.7 648.4,375.1 656.2,379.8 640.8,383.6" fill="#f4b41a" stroke="#f4b41a" stroke-width="1" stroke-linejoin="round"/>
<polygon points="649.6,373.4 668.4,368.8 680.1,375.3 660.8,380.1" fill="#916815"/>
<polygon points="653.3,373.9 668.2,370.3 676.3,374.8 661.1,378.6" fill="#f4b41a" stroke="#f4b41a" stroke-width="1" stroke-linejoin="round"/>
<polygon points="669.4,368.6 688.1,364.0 700.3,370.2 681.1,375.0" fill="#916815"/>
<polygon points="673.2,369.1 688.0,365.5 696.4,369.8 681.3,373.5" fill="#f4b41a" stroke="#f4b41a" stroke-width="1" stroke-linejoin="round"/>
<polygon points="641.4,385.6 660.7,380.8 671.9,387.5 652.1,392.6" fill="#916815"/>
<polygon points="644.8,386.2 660.5,382.3 668.3,387.0 652.3,391.1" fill="#f4b41a" stroke="#f4b41a" stroke-width="1" stroke-linejoin="round"/>
<polygon points="661.7,380.6 681.0,375.8 692.7,382.2 672.9,387.3" fill="#916815"/>
<polygon points="665.3,381.1 680.8,377.3 689.0,381.7 673.1,385.8" fill="#f4b41a" stroke="#f4b41a" stroke-width="1" stroke-linejoin="round"/>
<polygon points="682.0,375.5 701.3,370.7 713.5,376.9 693.7,382.0" fill="#916815"/>
<polygon points="685.8,376.0 701.1,372.2 709.6,376.5 693.9,380.5" fill="#f4b41a" stroke="#f4b41a" stroke-width="1" stroke-linejoin="round"/>
<polygon points="617.5,370.5 652.0,393.0 655.2,459.5 621.5,432.5" fill="#2e1c10" stroke="#2e1c10" stroke-width="1.0" stroke-linejoin="round"/>
<polygon points="617.9,371.2 628.7,378.2 629.9,398.5 619.2,391.0" fill="#8f4017"/>
<polygon points="619.5,373.9 627.3,379.0 628.3,395.7 620.5,390.2" fill="#f0641e" stroke="#f0641e" stroke-width="1" stroke-linejoin="round"/>
<polygon points="629.4,378.7 640.2,385.7 641.3,406.5 630.6,399.0" fill="#8f4017"/>
<polygon points="631.0,381.4 638.8,386.5 639.7,403.7 631.9,398.2" fill="#f0641e" stroke="#f0641e" stroke-width="1" stroke-linejoin="round"/>
<polygon points="640.9,386.2 651.7,393.2 652.7,414.5 642.0,407.0" fill="#8f4017"/>
<polygon points="642.4,388.8 650.3,394.0 651.1,411.7 643.4,406.2" fill="#f0641e" stroke="#f0641e" stroke-width="1" stroke-linejoin="round"/>
<polygon points="619.2,391.9 629.9,399.4 631.1,419.6 620.5,411.7" fill="#8f4017"/>
<polygon points="620.8,394.7 628.5,400.1 629.5,416.7 621.9,410.9" fill="#f0641e" stroke="#f0641e" stroke-width="1" stroke-linejoin="round"/>
<polygon points="630.6,399.9 641.3,407.4 642.4,428.1 631.8,420.2" fill="#8f4017"/>
<polygon points="632.2,402.7 640.0,408.1 640.9,425.2 633.2,419.4" fill="#f0641e" stroke="#f0641e" stroke-width="1" stroke-linejoin="round"/>
<polygon points="642.0,407.9 652.7,415.4 653.7,436.6 643.2,428.7" fill="#8f4017"/>
<polygon points="643.6,410.7 651.4,416.1 652.2,433.7 644.5,427.9" fill="#f0641e" stroke="#f0641e" stroke-width="1" stroke-linejoin="round"/>
<polygon points="620.6,412.6 631.1,420.5 632.3,440.7 621.8,432.3" fill="#8f4017"/>
<polygon points="622.2,415.5 629.8,421.2 630.8,437.7 623.2,431.6" fill="#f0641e" stroke="#f0641e" stroke-width="1" stroke-linejoin="round"/>
<polygon points="631.9,421.1 642.5,429.0 643.6,449.7 633.1,441.3" fill="#8f4017"/>
<polygon points="633.5,424.0 641.1,429.7 642.0,446.7 634.4,440.6" fill="#f0641e" stroke="#f0641e" stroke-width="1" stroke-linejoin="round"/>
<polygon points="643.2,429.6 653.8,437.5 654.8,458.7 644.3,450.3" fill="#8f4017"/>
<polygon points="644.8,432.5 652.4,438.2 653.3,455.7 645.7,449.6" fill="#f0641e" stroke="#f0641e" stroke-width="1" stroke-linejoin="round"/>
<polygon points="652.0,393.0 714.5,377.0 713.0,438.5 655.2,459.5" fill="#2e1c10" stroke="#2e1c10" stroke-width="1.0" stroke-linejoin="round"/>
<polygon points="652.4,393.3 672.5,388.1 673.0,409.0 653.4,414.7" fill="#242d5b"/>
<polygon points="653.8,394.3 671.1,389.9 671.6,408.0 654.7,412.9" fill="#1a3ea6" stroke="#1a3ea6" stroke-width="1" stroke-linejoin="round"/>
<polygon points="673.2,387.9 693.3,382.8 693.3,403.1 673.7,408.8" fill="#242d5b"/>
<polygon points="674.6,389.0 691.9,384.6 691.9,402.1 675.1,407.0" fill="#1a3ea6" stroke="#1a3ea6" stroke-width="1" stroke-linejoin="round"/>
<polygon points="694.0,382.6 714.1,377.5 713.7,397.2 694.0,402.9" fill="#242d5b"/>
<polygon points="695.4,383.7 712.7,379.3 712.3,396.2 695.4,401.1" fill="#1a3ea6" stroke="#1a3ea6" stroke-width="1" stroke-linejoin="round"/>
<polygon points="653.4,415.4 673.0,409.7 673.6,430.6 654.5,436.9" fill="#242d5b"/>
<polygon points="654.9,416.5 671.7,411.6 672.1,429.6 655.8,435.0" fill="#1a3ea6" stroke="#1a3ea6" stroke-width="1" stroke-linejoin="round"/>
<polygon points="673.7,409.5 693.3,403.9 693.4,424.2 674.3,430.4" fill="#242d5b"/>
<polygon points="675.2,410.6 691.9,405.7 692.0,423.2 675.6,428.5" fill="#1a3ea6" stroke="#1a3ea6" stroke-width="1" stroke-linejoin="round"/>
<polygon points="694.0,403.7 713.6,398.0 713.2,417.7 694.1,424.0" fill="#242d5b"/>
<polygon points="695.4,404.7 712.2,399.8 711.8,416.7 695.5,422.0" fill="#1a3ea6" stroke="#1a3ea6" stroke-width="1" stroke-linejoin="round"/>
<polygon points="654.5,437.6 673.6,431.4 674.1,452.3 655.5,459.0" fill="#242d5b"/>
<polygon points="655.9,438.6 672.2,433.3 672.7,451.3 656.8,457.0" fill="#1a3ea6" stroke="#1a3ea6" stroke-width="1" stroke-linejoin="round"/>
<polygon points="674.3,431.1 693.4,424.9 693.4,445.3 674.8,452.0" fill="#242d5b"/>
<polygon points="675.7,432.1 692.0,426.9 692.0,444.3 676.2,450.0" fill="#1a3ea6" stroke="#1a3ea6" stroke-width="1" stroke-linejoin="round"/>
<polygon points="694.1,424.7 713.1,418.5 712.7,438.3 694.1,445.0" fill="#242d5b"/>
<polygon points="695.5,425.7 711.7,420.4 711.3,437.3 695.5,443.0" fill="#1a3ea6" stroke="#1a3ea6" stroke-width="1" stroke-linejoin="round"/>
<text x="584.5" y="462" fill="#6a6a6a" text-anchor="start" style="font-family:'Liberation Serif', serif;font-size:10.5px;font-weight:bold;" textLength="51.5" lengthAdjust="spacingAndGlyphs">SOLVED</text>
<text x="518" y="484" fill="#555" text-anchor="start" style="font-family:'Liberation Serif', serif;font-size:6.8px;" textLength="195" lengthAdjust="spacingAndGlyphs">JONATHAN CORUM/THE NEW YORK TIMES</text>
</g>
</svg>
</body></html>
